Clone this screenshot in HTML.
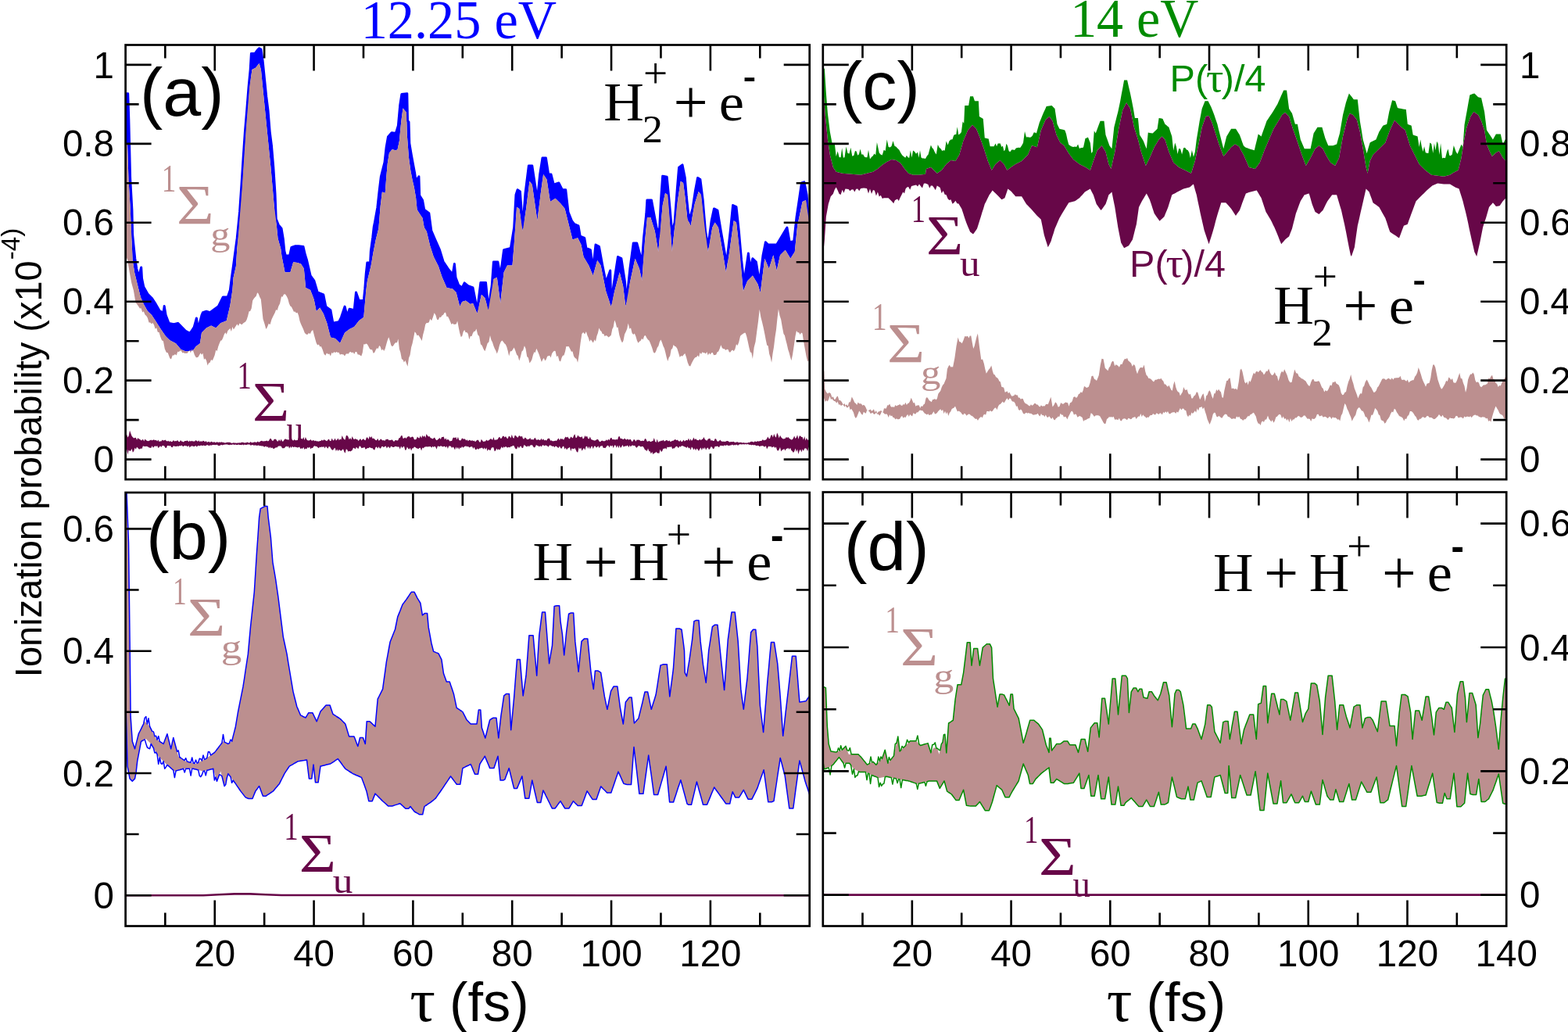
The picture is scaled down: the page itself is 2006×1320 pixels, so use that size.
<!DOCTYPE html>
<html><head><meta charset="utf-8"><title>Ionization probability</title>
<style>html,body{margin:0;padding:0;background:#fff;}svg{display:block;}</style></head>
<body><svg width="2006" height="1320" viewBox="0 0 2006 1320">
<rect width="2006" height="1320" fill="#fff"/>
<clipPath id="clipa"><rect x="160.6" y="57.5" width="875.1" height="555.7"/></clipPath><g clip-path="url(#clipa)"><path d="M159.5 119.8L163.7 119.8L164.8 152.7L166.6 227.7L168.9 268.6L169.6 300.0L170.9 312.9L172.8 330.9L174.8 343.8L177.3 354.1L180.7 342.0L181.5 356.0L183.8 367.0L188.9 376.0L194.1 381.2L199.2 388.9L204.4 397.9L209.0 400.0L210.2 391.5L212.1 403.1L216.0 413.4L222.4 414.7L227.6 413.4L232.7 418.6L237.9 423.7L243.1 426.3L248.2 418.6L251.4 407.0L253.4 421.1L258.0 403.1L259.5 399.7L264.0 398.2L268.6 399.7L274.7 395.2L279.2 392.1L285.3 380.0L291.3 380.0L294.4 370.9L296.4 355.0L298.6 339.1L303.2 305.0L306.6 270.9L308.9 236.8L311.1 202.7L313.4 168.6L315.7 141.4L318.0 111.8L320.2 89.1L321.4 68.6L325.9 68.6L329.3 64.1L331.6 61.8L333.9 63.0L336.1 77.7L338.4 100.5L340.7 123.2L343.0 141.4L345.2 168.6L347.5 186.8L349.8 214.1L352.0 248.2L353.2 280.0L356.2 287.6L360.0 292.1L362.3 305.8L363.8 320.9L365.3 327.0L370.6 327.0L372.9 316.4L377.4 314.8L382.0 314.8L388.0 315.6L390.3 325.5L392.6 333.0L397.1 352.7L401.7 358.8L406.2 373.9L413.8 377.0L416.8 392.1L422.9 396.7L425.9 413.3L433.5 411.8L436.5 405.8L441.1 392.1L444.1 404.2L447.1 395.2L453.2 396.7L455.5 373.9L459.2 384.5L465.3 384.5L466.8 369.4L468.3 349.7L469.8 336.1L473.6 336.1L474.4 320.9L476.8 303.5L478.3 290.0L479.1 286.4L482.9 265.2L485.2 243.9L487.4 225.8L492.0 207.6L494.2 187.9L496.5 175.0L501.1 169.7L506.4 170.5L509.4 160.6L511.7 134.8L513.9 120.5L520.8 119.7L521.5 154.5L523.0 156.1L523.8 183.3L526.1 197.0L528.3 209.1L530.6 221.2L532.1 231.8L535.9 225.8L536.7 250.0L540.5 256.1L542.7 268.2L548.8 272.7L551.8 295.2L556.4 305.8L562.4 319.4L567.0 334.5L573.0 343.6L579.1 351.2L581.4 337.6L583.0 355.0L586.7 364.8L591.2 367.9L594.2 361.8L598.8 365.6L605.0 368.0L610.5 396.6L614.9 361.4L621.5 361.4L624.8 394.4L629.2 365.8L631.4 335.1L636.9 335.1L640.2 352.6L644.6 319.7L653.4 317.5L657.7 291.1L660.0 249.3L662.1 242.7L665.4 244.9L668.7 291.1L672.0 247.1L676.4 212.0L680.8 212.0L684.1 234.0L687.4 255.9L690.7 223.0L694.0 202.1L698.4 202.1L701.7 223.0L705.0 223.0L708.3 236.2L714.9 234.0L719.3 242.7L723.7 242.7L727.0 271.3L731.4 282.3L734.7 286.7L740.0 288.9L742.2 302.1L747.7 304.3L749.9 317.5L755.4 319.7L758.7 343.8L762.0 313.1L766.4 315.3L770.8 339.5L775.2 361.4L780.7 346.0L781.8 387.8L785.1 363.6L790.5 328.5L794.9 330.7L799.3 359.2L801.5 385.6L805.9 343.8L810.3 310.9L814.7 310.9L821.3 335.1L823.5 304.3L826.8 273.5L827.9 255.9L833.4 255.9L836.7 273.5L840.0 291.1L843.3 299.9L845.5 255.9L847.7 225.2L853.2 226.3L856.5 260.3L859.8 297.7L863.1 284.5L866.4 240.5L868.6 214.2L873.0 210.9L876.3 227.4L878.3 251.5L881.6 282.3L886.0 266.9L889.3 244.9L892.6 227.4L895.9 229.6L899.2 255.9L902.5 295.5L905.8 315.3L910.2 282.3L913.5 266.9L917.9 269.1L922.3 295.5L927.7 326.3L930.0 332.9L934.3 295.5L937.6 262.5L942.0 264.7L945.3 295.5L948.6 332.9L951.9 361.4L957.4 324.1L959.6 343.8L962.9 330.7L967.3 335.1L971.7 361.4L976.1 326.3L979.4 309.8L982.7 313.1L987.1 313.1L993.7 313.1L1000.3 302.1L1006.9 291.1L1010.2 309.8L1015.7 308.7L1019.0 277.9L1022.3 255.9L1025.5 234.0L1028.8 232.9L1032.1 249.3L1034.3 277.9L1036.0 290.0L1036.0 290.0L1034.3 277.9L1031.0 255.9L1026.6 258.1L1020.1 288.9L1016.8 321.9L1011.3 330.7L1004.7 319.7L998.1 326.3L993.7 346.0L989.3 326.3L983.8 343.8L978.3 330.7L972.8 374.6L969.5 363.6L962.9 352.6L956.3 359.2L950.8 372.4L946.4 321.9L942.0 284.5L938.7 282.3L933.2 321.9L928.8 348.2L924.5 321.9L919.0 291.1L914.6 284.5L911.3 291.1L905.8 321.9L901.4 288.9L897.0 249.3L893.7 244.9L888.2 262.5L883.8 288.9L879.4 280.0L876.5 252.0L874.1 234.0L870.8 231.8L866.4 260.3L859.8 321.9L854.3 249.3L851.0 247.1L847.7 262.5L842.2 321.9L837.8 295.5L832.3 277.9L827.9 277.9L824.6 313.1L821.3 359.2L818.0 343.8L812.5 330.7L805.9 361.4L800.4 392.2L797.1 365.8L792.7 348.2L786.2 372.4L781.8 392.2L775.2 372.4L768.6 339.5L764.2 332.9L758.7 352.6L753.2 339.5L746.6 328.5L743.5 313.1L739.1 304.3L732.5 306.5L728.1 288.9L722.6 266.9L717.1 260.3L710.5 253.7L703.9 258.1L699.5 229.6L695.1 223.0L691.8 247.1L687.4 282.3L680.8 236.2L677.5 231.8L673.1 266.9L668.7 295.5L664.3 266.9L661.0 264.7L657.7 313.1L655.5 339.5L649.0 339.5L644.6 348.2L640.2 387.8L635.8 354.8L631.4 357.0L624.8 396.6L620.4 381.2L616.0 376.8L610.5 401.0L605.0 387.8L601.8 389.1L595.8 384.5L591.2 386.0L588.2 392.1L583.6 373.9L579.1 369.4L571.5 367.9L565.5 354.2L560.9 340.6L554.8 328.5L550.3 314.8L545.8 296.0L542.7 290.9L540.5 278.8L537.4 274.2L533.6 268.2L532.1 253.0L529.8 239.4L527.6 230.3L525.3 218.2L523.0 201.5L520.8 172.7L520.0 143.9L517.7 140.9L515.5 138.6L513.2 156.1L510.9 180.3L508.6 190.9L506.4 192.4L501.8 190.9L498.0 195.5L495.8 209.1L494.2 227.3L492.7 247.0L488.9 245.5L486.7 263.6L484.4 292.0L480.6 307.3L477.6 322.4L474.5 340.6L470.0 358.8L468.3 370.9L466.8 389.1L465.3 405.8L459.2 410.3L453.2 417.9L447.1 420.9L441.1 425.5L435.0 439.1L428.9 433.0L422.9 431.5L418.3 413.3L413.8 401.2L409.2 393.6L404.7 398.2L401.7 383.0L397.1 370.9L391.1 367.9L388.8 343.6L385.0 337.6L380.5 336.1L375.2 335.3L371.4 348.2L364.5 348.2L363.0 340.6L360.5 328.0L359.2 317.9L355.5 305.0L353.2 282.0L350.9 265.0L346.4 214.1L341.8 168.6L337.3 123.2L333.9 89.1L331.6 81.1L327.0 86.8L322.5 89.1L319.1 111.8L314.5 168.6L310.0 236.8L305.5 293.6L303.5 315.0L301.9 340.6L298.6 355.0L297.4 370.9L294.4 390.6L289.8 410.3L282.2 413.3L276.2 419.4L270.1 416.4L264.0 419.4L258.0 425.5L255.9 439.2L250.8 443.0L246.9 448.2L237.9 449.5L231.5 446.9L225.0 439.2L217.3 435.3L212.1 430.2L205.7 421.1L199.2 410.8L194.1 403.1L188.9 397.9L183.8 388.9L179.9 379.9L176.0 364.4L172.2 349.0L169.6 332.2L168.2 300.0L166.5 262.0L164.5 230.0L163.0 184.5L159.5 184.5Z" fill="#0000ff" /><path d="M159.5 119.8L163.7 119.8L164.8 152.7L166.6 227.7L168.9 268.6L169.6 300.0L170.9 312.9L172.8 330.9L174.8 343.8L177.3 354.1L180.7 342.0L181.5 356.0L183.8 367.0L188.9 376.0L194.1 381.2L199.2 388.9L204.4 397.9L209.0 400.0L210.2 391.5L212.1 403.1L216.0 413.4L222.4 414.7L227.6 413.4L232.7 418.6L237.9 423.7L243.1 426.3L248.2 418.6L251.4 407.0L253.4 421.1L258.0 403.1L259.5 399.7L264.0 398.2L268.6 399.7L274.7 395.2L279.2 392.1L285.3 380.0L291.3 380.0L294.4 370.9L296.4 355.0L298.6 339.1L303.2 305.0L306.6 270.9L308.9 236.8L311.1 202.7L313.4 168.6L315.7 141.4L318.0 111.8L320.2 89.1L321.4 68.6L325.9 68.6L329.3 64.1L331.6 61.8L333.9 63.0L336.1 77.7L338.4 100.5L340.7 123.2L343.0 141.4L345.2 168.6L347.5 186.8L349.8 214.1L352.0 248.2L353.2 280.0L356.2 287.6L360.0 292.1L362.3 305.8L363.8 320.9L365.3 327.0L370.6 327.0L372.9 316.4L377.4 314.8L382.0 314.8L388.0 315.6L390.3 325.5L392.6 333.0L397.1 352.7L401.7 358.8L406.2 373.9L413.8 377.0L416.8 392.1L422.9 396.7L425.9 413.3L433.5 411.8L436.5 405.8L441.1 392.1L444.1 404.2L447.1 395.2L453.2 396.7L455.5 373.9L459.2 384.5L465.3 384.5L466.8 369.4L468.3 349.7L469.8 336.1L473.6 336.1L474.4 320.9L476.8 303.5L478.3 290.0L479.1 286.4L482.9 265.2L485.2 243.9L487.4 225.8L492.0 207.6L494.2 187.9L496.5 175.0L501.1 169.7L506.4 170.5L509.4 160.6L511.7 134.8L513.9 120.5L520.8 119.7L521.5 154.5L523.0 156.1L523.8 183.3L526.1 197.0L528.3 209.1L530.6 221.2L532.1 231.8L535.9 225.8L536.7 250.0L540.5 256.1L542.7 268.2L548.8 272.7L551.8 295.2L556.4 305.8L562.4 319.4L567.0 334.5L573.0 343.6L579.1 351.2L581.4 337.6L583.0 355.0L586.7 364.8L591.2 367.9L594.2 361.8L598.8 365.6L605.0 368.0L610.5 396.6L614.9 361.4L621.5 361.4L624.8 394.4L629.2 365.8L631.4 335.1L636.9 335.1L640.2 352.6L644.6 319.7L653.4 317.5L657.7 291.1L660.0 249.3L662.1 242.7L665.4 244.9L668.7 291.1L672.0 247.1L676.4 212.0L680.8 212.0L684.1 234.0L687.4 255.9L690.7 223.0L694.0 202.1L698.4 202.1L701.7 223.0L705.0 223.0L708.3 236.2L714.9 234.0L719.3 242.7L723.7 242.7L727.0 271.3L731.4 282.3L734.7 286.7L740.0 288.9L742.2 302.1L747.7 304.3L749.9 317.5L755.4 319.7L758.7 343.8L762.0 313.1L766.4 315.3L770.8 339.5L775.2 361.4L780.7 346.0L781.8 387.8L785.1 363.6L790.5 328.5L794.9 330.7L799.3 359.2L801.5 385.6L805.9 343.8L810.3 310.9L814.7 310.9L821.3 335.1L823.5 304.3L826.8 273.5L827.9 255.9L833.4 255.9L836.7 273.5L840.0 291.1L843.3 299.9L845.5 255.9L847.7 225.2L853.2 226.3L856.5 260.3L859.8 297.7L863.1 284.5L866.4 240.5L868.6 214.2L873.0 210.9L876.3 227.4L878.3 251.5L881.6 282.3L886.0 266.9L889.3 244.9L892.6 227.4L895.9 229.6L899.2 255.9L902.5 295.5L905.8 315.3L910.2 282.3L913.5 266.9L917.9 269.1L922.3 295.5L927.7 326.3L930.0 332.9L934.3 295.5L937.6 262.5L942.0 264.7L945.3 295.5L948.6 332.9L951.9 361.4L957.4 324.1L959.6 343.8L962.9 330.7L967.3 335.1L971.7 361.4L976.1 326.3L979.4 309.8L982.7 313.1L987.1 313.1L993.7 313.1L1000.3 302.1L1006.9 291.1L1010.2 309.8L1015.7 308.7L1019.0 277.9L1022.3 255.9L1025.5 234.0L1028.8 232.9L1032.1 249.3L1034.3 277.9L1036.0 290.0" fill="none" stroke="#0000ff" stroke-width="3.0" stroke-linejoin="round"/><path d="M159.5 184.5L163.0 184.5L164.5 230.0L166.5 262.0L168.2 300.0L169.6 332.2L172.2 349.0L176.0 364.4L179.9 379.9L183.8 388.9L188.9 397.9L194.1 403.1L199.2 410.8L205.7 421.1L212.1 430.2L217.3 435.3L225.0 439.2L231.5 446.9L237.9 449.5L246.9 448.2L250.8 443.0L255.9 439.2L258.0 425.5L264.0 419.4L270.1 416.4L276.2 419.4L282.2 413.3L289.8 410.3L294.4 390.6L297.4 370.9L298.6 355.0L301.9 340.6L303.5 315.0L305.5 293.6L310.0 236.8L314.5 168.6L319.1 111.8L322.5 89.1L327.0 86.8L331.6 81.1L333.9 89.1L337.3 123.2L341.8 168.6L346.4 214.1L350.9 265.0L353.2 282.0L355.5 305.0L359.2 317.9L360.5 328.0L363.0 340.6L364.5 348.2L371.4 348.2L375.2 335.3L380.5 336.1L385.0 337.6L388.8 343.6L391.1 367.9L397.1 370.9L401.7 383.0L404.7 398.2L409.2 393.6L413.8 401.2L418.3 413.3L422.9 431.5L428.9 433.0L435.0 439.1L441.1 425.5L447.1 420.9L453.2 417.9L459.2 410.3L465.3 405.8L466.8 389.1L468.3 370.9L470.0 358.8L474.5 340.6L477.6 322.4L480.6 307.3L484.4 292.0L486.7 263.6L488.9 245.5L492.7 247.0L494.2 227.3L495.8 209.1L498.0 195.5L501.8 190.9L506.4 192.4L508.6 190.9L510.9 180.3L513.2 156.1L515.5 138.6L517.7 140.9L520.0 143.9L520.8 172.7L523.0 201.5L525.3 218.2L527.6 230.3L529.8 239.4L532.1 253.0L533.6 268.2L537.4 274.2L540.5 278.8L542.7 290.9L545.8 296.0L550.3 314.8L554.8 328.5L560.9 340.6L565.5 354.2L571.5 367.9L579.1 369.4L583.6 373.9L588.2 392.1L591.2 386.0L595.8 384.5L601.8 389.1L605.0 387.8L610.5 401.0L616.0 376.8L620.4 381.2L624.8 396.6L631.4 357.0L635.8 354.8L640.2 387.8L644.6 348.2L649.0 339.5L655.5 339.5L657.7 313.1L661.0 264.7L664.3 266.9L668.7 295.5L673.1 266.9L677.5 231.8L680.8 236.2L687.4 282.3L691.8 247.1L695.1 223.0L699.5 229.6L703.9 258.1L710.5 253.7L717.1 260.3L722.6 266.9L728.1 288.9L732.5 306.5L739.1 304.3L743.5 313.1L746.6 328.5L753.2 339.5L758.7 352.6L764.2 332.9L768.6 339.5L775.2 372.4L781.8 392.2L786.2 372.4L792.7 348.2L797.1 365.8L800.4 392.2L805.9 361.4L812.5 330.7L818.0 343.8L821.3 359.2L824.6 313.1L827.9 277.9L832.3 277.9L837.8 295.5L842.2 321.9L847.7 262.5L851.0 247.1L854.3 249.3L859.8 321.9L866.4 260.3L870.8 231.8L874.1 234.0L876.5 252.0L879.4 280.0L883.8 288.9L888.2 262.5L893.7 244.9L897.0 249.3L901.4 288.9L905.8 321.9L911.3 291.1L914.6 284.5L919.0 291.1L924.5 321.9L928.8 348.2L933.2 321.9L938.7 282.3L942.0 284.5L946.4 321.9L950.8 372.4L956.3 359.2L962.9 352.6L969.5 363.6L972.8 374.6L978.3 330.7L983.8 343.8L989.3 326.3L993.7 346.0L998.1 326.3L1004.7 319.7L1011.3 330.7L1016.8 321.9L1020.1 288.9L1026.6 258.1L1031.0 255.9L1034.3 277.9L1036.0 290.0L1036.0 458.9L1033.2 462.5L1031.5 455.4L1029.9 446.8L1028.2 437.4L1026.6 426.6L1025.1 425.5L1023.6 428.1L1022.0 425.2L1020.5 425.2L1019.0 423.1L1017.4 430.4L1015.7 442.6L1014.0 453.8L1012.4 461.3L1011.0 456.5L1009.6 451.3L1008.2 446.9L1006.7 440.3L1005.3 435.1L1003.9 429.1L1002.5 427.0L1000.9 418.8L999.2 408.8L997.5 403.4L995.9 395.3L994.4 408.1L993.0 421.7L991.5 431.3L990.0 443.9L988.6 452.1L987.1 463.7L985.6 456.9L984.2 452.7L982.7 442.4L981.2 441.4L979.8 435.1L978.3 427.0L976.6 418.7L975.0 411.9L973.4 405.7L971.7 395.7L970.0 411.3L968.4 423.0L966.6 436.9L964.7 444.3L962.9 458.9L961.4 451.2L959.8 450.2L958.3 444.3L956.7 436.8L955.2 430.2L953.7 425.8L952.3 425.7L950.8 426.7L949.0 427.9L947.1 429.7L945.3 437.6L943.6 442.1L942.0 440.2L940.4 446.5L938.7 449.3L937.2 447.6L935.8 448.4L934.4 450.4L932.9 450.5L931.5 447.1L930.0 446.7L928.5 448.1L926.9 446.2L925.4 446.2L923.8 445.0L922.3 441.2L920.8 445.7L919.2 449.6L917.7 450.2L916.1 453.7L914.6 453.9L913.1 454.2L911.7 451.1L910.2 451.3L908.7 453.4L907.3 451.4L905.8 454.6L904.3 450.1L902.9 452.4L901.4 451.3L899.9 451.3L898.5 450.2L897.0 452.9L895.5 451.0L894.1 456.8L892.6 454.5L891.1 456.7L889.7 457.1L888.2 458.6L886.6 461.2L884.9 464.6L883.2 468.6L881.6 468.0L879.8 463.8L878.1 457.3L876.3 452.0L874.6 453.7L873.0 455.8L871.4 455.1L869.7 457.0L868.1 451.6L866.4 446.0L864.8 443.6L863.1 442.7L861.6 441.0L860.2 445.7L858.7 447.1L857.2 455.3L855.8 457.2L854.3 461.9L852.8 457.3L851.4 451.3L849.9 445.6L848.4 442.4L847.0 438.3L845.5 434.6L844.0 436.8L842.4 442.5L840.9 444.4L839.3 448.9L837.8 451.7L836.0 450.7L834.1 444.4L832.3 439.8L830.6 435.7L829.0 434.5L827.4 432.3L825.7 428.9L824.2 429.7L822.6 434.6L821.1 433.1L819.5 436.0L818.0 436.8L816.5 438.8L814.9 435.4L813.4 430.3L811.8 426.4L810.3 428.0L808.6 426.1L807.0 419.3L805.4 420.8L803.7 413.5L802.2 420.7L800.6 424.6L799.1 427.6L797.5 435.7L796.0 438.5L794.2 434.7L792.3 428.4L790.5 418.5L789.1 419.0L787.6 412.7L786.2 409.5L784.7 418.3L783.3 421.1L781.8 428.8L780.1 430.2L778.5 431.4L776.9 429.7L775.2 429.1L773.7 430.2L772.3 427.1L770.8 427.2L769.3 423.8L767.9 422.7L766.4 419.6L764.9 425.9L763.5 429.7L762.0 436.8L760.5 434.2L758.9 438.4L757.4 436.6L755.8 434.3L754.3 436.9L752.8 431.9L751.4 429.1L749.9 424.1L748.1 427.4L746.2 424.9L744.4 426.9L742.6 438.7L740.9 452.9L739.1 463.7L737.5 458.9L735.8 457.9L734.1 455.8L732.5 449.4L730.9 449.8L729.2 446.1L727.5 442.9L725.9 443.3L724.4 442.9L723.0 449.7L721.5 454.4L720.0 454.8L718.6 457.4L717.1 462.5L715.5 461.5L713.8 455.0L712.1 456.3L710.5 449.0L709.0 448.8L707.6 450.0L706.1 452.2L704.6 457.6L703.2 454.7L701.7 455.2L700.2 455.8L698.8 459.6L697.3 461.6L695.8 458.0L694.4 459.8L692.9 463.1L691.2 458.1L689.6 453.3L687.9 449.2L686.3 445.7L684.8 451.1L683.4 450.3L681.9 454.2L680.4 460.0L679.0 462.5L677.5 464.5L675.9 457.8L674.2 456.1L672.5 445.7L670.9 442.3L669.2 447.9L667.6 449.4L665.9 456.6L664.3 461.6L662.6 455.2L661.0 453.4L659.4 448.8L657.7 444.6L656.1 446.9L654.5 449.3L652.8 449.2L651.2 455.6L649.7 448.7L648.3 443.8L646.8 440.4L645.3 439.3L643.9 437.2L642.4 435.6L640.8 437.0L639.1 441.2L637.4 448.0L635.8 452.4L634.3 448.4L632.9 446.0L631.4 442.2L629.9 437.4L628.5 435.1L627.0 429.0L625.4 437.6L623.7 439.0L622.0 444.6L620.4 449.3L618.6 446.5L616.7 442.1L614.9 440.2L613.1 430.2L611.2 427.9L609.4 420.6L607.9 423.7L606.5 423.8L605.0 426.1L603.4 430.3L601.9 429.7L600.3 434.2L598.8 427.0L597.2 425.0L595.7 425.2L594.2 422.1L592.7 424.2L591.2 430.1L589.7 430.9L588.2 426.0L586.7 418.8L585.2 410.5L583.7 414.5L582.2 414.7L580.6 415.0L579.1 413.5L577.6 415.0L576.0 411.2L574.5 407.7L573.0 404.8L571.5 405.0L570.0 399.5L568.5 400.2L567.0 402.7L565.5 403.6L563.9 406.0L562.4 405.6L560.9 409.0L559.1 408.7L557.4 403.0L555.6 400.2L553.8 406.0L552.1 410.2L550.3 407.8L548.8 412.3L547.2 412.9L545.7 413.1L544.2 415.1L542.7 422.4L541.2 427.9L539.7 436.1L538.2 433.3L536.7 430.7L535.2 428.6L533.6 429.3L532.1 426.1L530.6 424.2L529.1 432.0L527.6 439.3L526.1 444.3L524.6 454.1L523.0 458.1L521.5 468.8L520.0 464.9L518.5 461.1L516.9 463.5L515.4 460.1L513.9 459.3L512.4 451.0L510.9 446.6L509.4 433.5L507.9 438.4L506.4 438.0L504.8 439.4L503.3 442.1L501.8 443.2L500.3 441.6L498.8 435.7L497.3 431.2L495.8 434.9L494.2 440.6L492.7 445.9L491.2 449.1L489.7 446.5L488.2 448.3L486.7 443.5L485.2 442.1L483.7 446.1L482.1 445.3L480.6 447.8L479.1 451.0L477.6 451.8L476.1 447.2L474.5 447.2L473.0 446.2L471.4 443.1L469.8 440.3L468.3 439.6L466.8 440.6L465.3 440.2L463.8 451.0L462.3 455.5L460.8 454.4L459.2 453.4L457.7 453.4L456.2 450.1L454.7 450.0L453.2 453.0L451.7 450.4L450.2 451.2L448.6 449.9L447.1 450.6L445.6 452.7L444.1 452.2L442.6 452.7L441.0 455.5L439.5 453.5L438.0 453.2L436.5 452.9L435.0 453.7L433.5 450.7L432.0 451.1L430.5 450.0L428.9 451.3L427.4 450.0L425.9 451.9L424.4 451.0L422.9 455.5L421.3 452.4L419.8 452.9L418.0 451.5L416.3 454.8L414.5 452.7L412.6 447.0L410.8 443.1L409.3 443.5L407.8 440.5L406.2 441.4L404.7 438.7L403.2 433.6L401.7 427.9L400.2 422.0L398.5 423.4L396.8 427.1L395.0 426.1L393.3 427.9L391.5 427.6L389.8 425.8L388.0 421.1L386.5 417.7L385.0 414.6L383.5 410.6L382.0 403.6L380.5 399.7L379.0 400.6L377.4 398.5L375.9 398.7L374.4 395.6L372.9 392.4L371.4 391.6L369.9 388.2L368.3 382.2L366.8 379.1L364.9 376.3L363.0 376.6L361.5 379.7L360.0 379.2L358.1 388.3L356.2 391.9L354.7 396.9L353.2 396.1L351.7 399.9L349.4 404.5L347.5 408.5L345.6 415.0L343.7 414.1L341.8 418.7L340.3 421.1L338.8 415.3L336.5 408.0L333.8 382.7L332.3 380.0L330.7 375.8L329.2 374.3L327.7 378.8L326.2 380.3L324.7 382.1L323.2 384.6L321.7 394.4L320.1 398.0L318.6 398.3L317.1 404.2L315.6 409.0L314.1 411.4L312.5 412.5L311.0 413.4L309.5 415.2L308.0 414.6L306.5 413.4L304.9 416.9L303.4 414.6L301.9 416.7L300.4 419.0L298.9 421.6L297.4 417.9L295.9 424.0L294.4 420.1L292.9 421.6L291.4 423.0L289.8 427.8L288.3 425.3L286.8 427.7L285.3 431.9L283.8 435.3L282.2 435.8L280.7 439.2L279.2 443.3L277.7 448.9L276.2 447.7L274.7 454.3L273.2 458.1L271.7 461.2L270.1 460.0L268.6 463.8L267.1 464.3L265.6 467.5L264.0 461.1L262.5 458.5L261.0 460.1L259.5 451.7L258.0 453.8L256.6 451.5L255.1 454.1L253.7 456.6L252.2 457.2L250.8 457.2L248.9 454.0L246.9 448.0L245.4 446.7L243.9 451.6L242.4 447.9L240.9 449.9L239.4 452.1L237.9 451.8L236.4 451.9L234.9 450.9L233.4 451.4L231.9 448.7L230.4 448.5L228.9 450.0L227.3 449.8L225.7 454.6L224.0 453.0L222.4 454.6L220.7 454.4L219.0 459.4L217.3 458.2L214.7 451.3L212.8 450.7L210.8 446.2L208.9 436.3L207.0 435.2L205.3 430.9L203.5 425.0L201.8 424.8L200.2 419.3L198.6 420.8L197.0 415.5L195.4 413.0L193.8 414.2L192.2 412.6L190.5 412.5L188.9 406.7L187.2 403.9L185.5 402.5L183.8 398.3L182.2 399.5L180.6 394.3L178.9 394.4L177.3 392.1L175.4 389.2L173.5 387.1L170.9 371.6L168.3 362.1L165.7 348.3L163.2 332.3L161.3 328.8L159.5 325.7Z" fill="#bc8f8f" /><path d="M159.5 560.3L160.8 558.7L162.1 555.6L163.4 559.4L164.7 557.5L166.0 550.5L167.3 554.2L168.6 557.7L169.9 559.2L171.2 560.5L172.5 559.9L173.8 559.7L175.1 562.7L176.4 560.1L177.7 561.5L179.0 561.8L180.3 563.3L181.6 563.3L182.9 561.5L184.2 564.4L185.5 561.4L186.8 563.1L188.1 563.7L189.4 564.3L190.7 563.7L192.0 563.3L193.3 562.6L194.6 563.4L195.9 562.6L197.2 562.4L198.5 563.2L199.8 562.7L201.1 564.6L202.4 562.6L203.7 564.9L205.0 564.2L206.3 564.5L207.6 562.6L208.9 563.6L210.2 563.2L211.5 562.6L212.8 564.0L214.1 564.6L215.4 563.8L216.7 564.9L218.0 563.9L219.3 565.2L220.6 564.8L221.9 563.0L223.2 564.5L224.5 564.0L225.8 564.3L227.1 563.1L228.4 564.7L229.7 565.2L231.0 563.0L232.3 564.4L233.6 564.7L234.9 565.4L236.2 564.0L237.5 564.0L238.8 563.8L240.1 563.6L241.4 565.2L242.7 563.6L244.0 564.8L245.3 563.8L246.6 564.5L247.9 564.4L249.2 564.5L250.5 563.0L251.8 563.9L253.1 564.7L254.4 563.3L255.7 565.2L257.0 564.0L258.3 565.1L259.6 563.8L260.9 563.9L262.2 565.3L263.5 564.1L264.8 565.7L266.1 565.2L267.4 564.7L268.7 565.9L270.0 564.8L271.3 564.9L272.6 566.1L273.9 565.1L275.2 565.9L276.5 565.9L277.8 565.0L279.1 566.3L280.4 565.3L281.7 566.0L283.0 565.3L284.3 565.7L285.6 565.8L286.9 566.3L288.2 566.4L289.5 566.1L290.8 565.8L292.1 565.8L293.4 565.8L294.7 565.9L296.0 566.7L297.3 566.7L298.6 566.3L299.9 566.6L301.2 566.4L302.5 566.7L303.8 566.4L305.1 566.5L306.4 566.3L307.7 566.6L309.0 565.7L310.3 565.8L311.6 566.0L312.9 566.5L314.2 566.3L315.5 566.1L316.8 565.6L318.1 566.4L319.4 566.3L320.7 565.0L322.0 566.2L323.3 565.9L324.6 565.7L325.9 565.2L327.2 565.8L328.5 565.8L329.8 564.5L331.1 565.7L332.4 565.1L333.7 563.9L335.0 563.7L336.3 564.6L337.6 564.2L338.9 564.3L340.2 564.0L341.5 563.5L342.8 564.6L344.1 563.5L345.4 561.0L346.7 560.9L348.0 563.6L349.3 564.0L350.6 562.1L351.9 561.5L353.2 561.9L354.5 564.2L355.8 564.4L357.1 561.9L358.4 564.4L359.7 561.6L361.0 564.6L362.3 564.4L363.6 562.6L364.9 561.3L366.2 562.0L367.5 562.2L368.8 562.4L370.1 562.3L371.4 564.5L372.7 563.1L374.0 564.1L375.3 564.1L376.6 562.0L377.9 563.4L379.2 563.4L380.5 564.0L381.8 559.8L383.1 561.0L384.4 561.1L385.7 561.0L387.0 561.8L388.3 559.1L389.6 563.1L390.9 558.9L392.2 562.1L393.5 563.3L394.8 563.5L396.1 563.3L397.4 561.9L398.7 563.8L400.0 563.6L401.3 563.1L402.6 564.3L403.9 563.6L405.2 564.6L406.5 564.3L407.8 564.8L409.1 564.0L410.4 564.0L411.7 562.6L413.0 563.8L414.3 562.2L415.6 562.7L416.9 563.6L418.2 564.3L419.5 562.6L420.8 561.5L422.1 564.0L423.4 563.9L424.7 560.5L426.0 563.4L427.3 563.0L428.6 560.4L429.9 563.5L431.2 562.6L432.5 560.6L433.8 563.3L435.1 561.4L436.4 562.5L437.7 556.9L439.0 560.3L440.3 562.0L441.6 562.6L442.9 557.1L444.2 557.0L445.5 558.8L446.8 562.2L448.1 560.1L449.4 562.5L450.7 558.1L452.0 561.3L453.3 561.9L454.6 560.9L455.9 562.1L457.2 562.0L458.5 564.1L459.8 562.6L461.1 561.0L462.4 563.4L463.7 561.9L465.0 561.3L466.3 562.7L467.6 563.2L468.9 559.6L470.2 559.4L471.5 561.9L472.8 557.7L474.1 560.1L475.4 558.1L476.7 561.3L478.0 560.5L479.3 561.8L480.6 563.0L481.9 563.3L483.2 560.7L484.5 563.7L485.8 563.1L487.1 561.3L488.4 562.5L489.7 563.4L491.0 562.9L492.3 564.1L493.6 562.0L494.9 562.0L496.2 561.4L497.5 563.3L498.8 563.0L500.1 562.9L501.4 562.3L502.7 563.5L504.0 565.0L505.3 563.2L506.6 563.0L507.9 563.5L509.2 563.2L510.5 560.3L511.8 560.1L513.1 557.2L514.4 557.1L515.7 560.9L517.0 560.6L518.3 559.4L519.6 560.9L520.9 559.1L522.2 558.3L523.5 558.1L524.8 559.8L526.1 559.2L527.4 558.6L528.7 559.1L530.0 562.3L531.3 562.2L532.6 561.8L533.9 558.6L535.2 560.1L536.5 560.5L537.8 557.2L539.1 560.5L540.4 556.8L541.7 559.0L543.0 557.1L544.3 559.9L545.6 554.9L546.9 557.2L548.2 558.6L549.5 558.1L550.8 560.3L552.1 560.5L553.4 561.4L554.7 560.4L556.0 559.6L557.3 561.9L558.6 563.3L559.9 562.5L561.2 561.2L562.5 560.1L563.8 562.0L565.1 558.9L566.4 559.0L567.7 558.5L569.0 562.5L570.3 560.2L571.6 562.9L572.9 561.8L574.2 562.7L575.5 564.5L576.8 564.1L578.1 564.1L579.4 560.3L580.7 559.5L582.0 560.2L583.3 558.9L584.6 562.4L585.9 558.7L587.2 562.7L588.5 563.5L589.8 562.9L591.1 560.3L592.4 561.6L593.7 561.5L595.0 561.4L596.3 563.6L597.6 562.3L598.9 564.3L600.2 562.7L601.5 562.9L602.8 563.9L604.1 563.1L605.4 564.2L606.7 563.5L608.0 565.2L609.3 563.8L610.6 562.8L611.9 562.7L613.2 565.3L614.5 565.8L615.8 561.7L617.1 563.6L618.4 565.1L619.7 564.5L621.0 564.5L622.3 562.4L623.6 563.8L624.9 563.6L626.2 562.5L627.5 561.2L628.8 561.4L630.1 562.9L631.4 559.0L632.7 563.0L634.0 562.4L635.3 562.6L636.6 562.0L637.9 559.8L639.2 558.7L640.5 561.1L641.8 560.4L643.1 557.8L644.4 557.8L645.7 559.5L647.0 558.1L648.3 560.3L649.6 561.2L650.9 557.7L652.2 558.2L653.5 560.5L654.8 555.8L656.1 559.7L657.4 560.7L658.7 556.8L660.0 557.3L661.3 559.1L662.6 559.7L663.9 557.3L665.2 557.4L666.5 558.7L667.8 557.4L669.1 561.2L670.4 561.6L671.7 559.5L673.0 560.6L674.3 562.3L675.6 561.8L676.9 561.7L678.2 560.1L679.5 562.6L680.8 561.8L682.1 562.7L683.4 560.9L684.7 559.7L686.0 562.4L687.3 562.7L688.6 562.1L689.9 562.7L691.2 563.0L692.5 560.7L693.8 563.1L695.1 561.2L696.4 563.6L697.7 562.5L699.0 563.8L700.3 561.6L701.6 560.7L702.9 560.8L704.2 563.8L705.5 563.2L706.8 564.2L708.1 564.2L709.4 563.9L710.7 563.4L712.0 564.1L713.3 562.1L714.6 560.4L715.9 563.2L717.2 560.7L718.5 561.7L719.8 561.3L721.1 562.7L722.4 560.3L723.7 558.4L725.0 559.7L726.3 558.4L727.6 560.7L728.9 561.6L730.2 558.6L731.5 559.4L732.8 560.4L734.1 557.0L735.4 555.2L736.7 560.2L738.0 559.6L739.3 556.4L740.6 558.4L741.9 558.8L743.2 559.5L744.5 558.1L745.8 561.5L747.1 560.4L748.4 557.1L749.7 559.1L751.0 557.4L752.3 561.0L753.6 561.6L754.9 558.4L756.2 562.1L757.5 562.6L758.8 562.9L760.1 563.6L761.4 563.6L762.7 562.8L764.0 561.8L765.3 562.2L766.6 564.5L767.9 565.2L769.2 564.0L770.5 563.6L771.8 564.3L773.1 564.3L774.4 564.1L775.7 562.2L777.0 563.8L778.3 561.4L779.6 563.3L780.9 560.4L782.2 559.8L783.5 562.3L784.8 562.1L786.1 562.3L787.4 562.5L788.7 561.8L790.0 562.4L791.3 558.6L792.6 558.1L793.9 561.2L795.2 560.7L796.5 561.7L797.8 561.9L799.1 560.4L800.4 562.1L801.7 562.5L803.0 561.3L804.3 562.7L805.6 562.1L806.9 562.0L808.2 564.8L809.5 564.6L810.8 562.0L812.1 562.4L813.4 564.7L814.7 562.5L816.0 562.8L817.3 562.4L818.6 563.2L819.9 564.3L821.2 563.8L822.5 563.7L823.8 563.9L825.1 560.9L826.4 561.5L827.7 564.5L829.0 564.7L830.3 563.7L831.6 564.7L832.9 565.1L834.2 564.3L835.5 563.9L836.8 560.1L838.1 564.5L839.4 566.1L840.7 561.5L842.0 565.9L843.3 564.5L844.6 564.5L845.9 563.5L847.2 564.1L848.5 562.6L849.8 564.5L851.1 564.0L852.4 562.9L853.7 563.3L855.0 564.6L856.3 563.2L857.6 565.0L858.9 564.5L860.2 563.7L861.5 563.7L862.8 562.5L864.1 562.1L865.4 563.3L866.7 562.4L868.0 564.1L869.3 564.7L870.6 562.9L871.9 565.2L873.2 564.5L874.5 562.5L875.8 564.4L877.1 563.4L878.4 562.7L879.7 563.4L881.0 560.4L882.3 564.1L883.6 561.2L884.9 563.9L886.2 562.2L887.5 559.5L888.8 562.6L890.1 561.1L891.4 562.8L892.7 563.1L894.0 563.3L895.3 561.4L896.6 563.3L897.9 561.9L899.2 561.6L900.5 558.9L901.8 561.9L903.1 563.1L904.4 563.7L905.7 561.8L907.0 561.1L908.3 560.7L909.6 563.8L910.9 563.1L912.2 564.0L913.5 564.1L914.8 561.1L916.1 561.5L917.4 564.3L918.7 564.7L920.0 564.0L921.3 562.6L922.6 564.2L923.9 564.8L925.2 564.7L926.5 564.7L927.8 565.0L929.1 564.3L930.4 564.1L931.7 564.3L933.0 565.4L934.3 565.2L935.6 564.9L936.9 565.3L938.2 564.8L939.5 565.5L940.8 565.9L942.1 565.4L943.4 565.3L944.7 566.0L946.0 566.0L947.3 565.8L948.6 565.9L949.9 566.5L951.2 566.0L952.5 566.4L953.8 566.6L955.1 566.4L956.4 566.5L957.7 565.8L959.0 566.1L960.3 565.1L961.6 564.7L962.9 564.9L964.2 565.8L965.5 564.5L966.8 564.8L968.1 565.1L969.4 564.0L970.7 564.7L972.0 564.0L973.3 564.1L974.6 563.7L975.9 562.1L977.2 563.4L978.5 562.8L979.8 562.7L981.1 560.9L982.4 558.5L983.7 560.9L985.0 561.1L986.3 556.7L987.6 556.2L988.9 559.4L990.2 555.1L991.5 557.9L992.8 559.7L994.1 553.5L995.4 556.1L996.7 560.4L998.0 556.8L999.3 559.3L1000.6 560.4L1001.9 561.4L1003.2 561.3L1004.5 561.1L1005.8 559.1L1007.1 559.9L1008.4 559.1L1009.7 560.8L1011.0 561.5L1012.3 562.5L1013.6 562.2L1014.9 560.4L1016.2 557.5L1017.5 561.0L1018.8 559.6L1020.1 556.2L1021.4 561.8L1022.7 557.5L1024.0 557.4L1025.3 559.0L1026.6 559.0L1027.9 562.4L1029.2 557.9L1030.5 563.5L1031.8 560.1L1033.1 562.7L1034.4 562.4L1035.7 562.5L1036.0 564.4L1036.0 573.8L1035.7 571.6L1034.4 572.6L1033.1 577.2L1031.8 574.0L1030.5 573.2L1029.2 573.7L1027.9 577.1L1026.6 574.6L1025.3 578.6L1024.0 574.7L1022.7 576.6L1021.4 580.9L1020.1 574.5L1018.8 578.0L1017.5 573.5L1016.2 577.4L1014.9 579.1L1013.6 577.1L1012.3 575.9L1011.0 572.7L1009.7 575.0L1008.4 573.0L1007.1 573.7L1005.8 574.1L1004.5 576.6L1003.2 573.9L1001.9 575.0L1000.6 575.6L999.3 577.5L998.0 572.0L996.7 575.0L995.4 576.8L994.1 575.7L992.8 571.6L991.5 573.1L990.2 571.3L988.9 571.5L987.6 572.5L986.3 570.8L985.0 571.4L983.7 570.5L982.4 572.1L981.1 574.4L979.8 570.3L978.5 571.6L977.2 571.3L975.9 569.9L974.6 570.6L973.3 570.3L972.0 571.2L970.7 570.3L969.4 569.7L968.1 570.2L966.8 569.7L965.5 569.1L964.2 569.6L962.9 568.7L961.6 569.5L960.3 568.8L959.0 569.1L957.7 568.5L956.4 568.0L955.1 568.4L953.8 568.0L952.5 568.5L951.2 568.2L949.9 568.3L948.6 568.5L947.3 568.3L946.0 568.2L944.7 569.4L943.4 569.5L942.1 568.5L940.8 569.6L939.5 569.1L938.2 569.8L936.9 568.6L935.6 569.6L934.3 569.5L933.0 570.1L931.7 569.9L930.4 569.2L929.1 569.4L927.8 569.9L926.5 569.3L925.2 570.8L923.9 569.8L922.6 570.2L921.3 569.8L920.0 572.3L918.7 571.2L917.4 570.5L916.1 571.3L914.8 570.7L913.5 573.7L912.2 574.2L910.9 571.8L909.6 571.3L908.3 574.1L907.0 575.3L905.7 572.4L904.4 573.3L903.1 575.7L901.8 572.1L900.5 574.4L899.2 572.6L897.9 576.0L896.6 572.5L895.3 574.3L894.0 577.0L892.7 575.0L891.4 573.4L890.1 576.3L888.8 573.2L887.5 575.4L886.2 572.9L884.9 571.5L883.6 575.7L882.3 572.5L881.0 573.5L879.7 571.1L878.4 572.9L877.1 571.8L875.8 571.4L874.5 570.7L873.2 570.3L871.9 570.3L870.6 571.8L869.3 570.7L868.0 573.3L866.7 571.4L865.4 570.8L864.1 571.8L862.8 573.5L861.5 573.2L860.2 574.2L858.9 571.1L857.6 571.9L856.3 571.5L855.0 572.2L853.7 571.6L852.4 574.8L851.1 572.9L849.8 574.0L848.5 573.8L847.2 577.1L845.9 577.9L844.6 574.7L843.3 579.9L842.0 579.5L840.7 579.5L839.4 577.7L838.1 579.5L836.8 579.4L835.5 581.3L834.2 577.7L832.9 580.5L831.6 577.3L830.3 577.2L829.0 573.6L827.7 577.3L826.4 575.6L825.1 575.4L823.8 572.8L822.5 571.1L821.2 571.1L819.9 571.4L818.6 570.8L817.3 569.9L816.0 570.9L814.7 572.7L813.4 572.1L812.1 569.7L810.8 570.3L809.5 569.5L808.2 569.8L806.9 571.6L805.6 569.6L804.3 572.2L803.0 569.6L801.7 570.6L800.4 570.6L799.1 570.8L797.8 571.7L796.5 569.1L795.2 571.5L793.9 573.0L792.6 569.6L791.3 573.3L790.0 569.5L788.7 572.8L787.4 569.5L786.1 569.5L784.8 573.2L783.5 569.6L782.2 571.0L780.9 569.6L779.6 572.4L778.3 570.0L777.0 569.8L775.7 571.6L774.4 573.3L773.1 572.8L771.8 573.1L770.5 570.1L769.2 570.6L767.9 570.7L766.6 573.3L765.3 570.3L764.0 572.0L762.7 572.6L761.4 570.4L760.1 570.7L758.8 574.3L757.5 570.5L756.2 571.4L754.9 574.5L753.6 571.0L752.3 574.0L751.0 570.7L749.7 570.9L748.4 575.8L747.1 573.0L745.8 574.4L744.5 576.7L743.2 572.6L741.9 574.6L740.6 572.3L739.3 578.5L738.0 578.2L736.7 575.5L735.4 573.0L734.1 574.3L732.8 574.0L731.5 573.4L730.2 577.3L728.9 571.7L727.6 573.1L726.3 573.5L725.0 575.5L723.7 572.4L722.4 574.8L721.1 570.6L719.8 571.2L718.5 573.8L717.2 573.3L715.9 570.5L714.6 573.0L713.3 572.2L712.0 571.0L710.7 570.4L709.4 572.3L708.1 570.4L706.8 571.1L705.5 570.3L704.2 569.6L702.9 569.6L701.6 571.8L700.3 570.5L699.0 569.7L697.7 569.5L696.4 570.5L695.1 569.2L693.8 569.5L692.5 571.5L691.2 570.0L689.9 571.6L688.6 570.2L687.3 569.9L686.0 569.1L684.7 571.8L683.4 572.4L682.1 571.3L680.8 569.0L679.5 569.5L678.2 569.5L676.9 571.5L675.6 570.1L674.3 571.6L673.0 571.1L671.7 569.7L670.4 569.1L669.1 573.0L667.8 573.1L666.5 570.4L665.2 570.9L663.9 573.4L662.6 570.8L661.3 573.9L660.0 574.5L658.7 572.8L657.4 570.1L656.1 569.9L654.8 570.9L653.5 571.1L652.2 572.6L650.9 571.7L649.6 572.6L648.3 572.3L647.0 570.7L645.7 572.4L644.4 571.3L643.1 573.5L641.8 571.3L640.5 573.8L639.2 575.8L637.9 574.3L636.6 575.8L635.3 573.5L634.0 576.5L632.7 577.2L631.4 572.3L630.1 572.3L628.8 572.7L627.5 575.9L626.2 575.8L624.9 574.5L623.6 577.0L622.3 572.4L621.0 574.9L619.7 572.5L618.4 574.8L617.1 572.7L615.8 572.7L614.5 573.6L613.2 573.5L611.9 575.0L610.6 573.5L609.3 575.3L608.0 574.9L606.7 571.8L605.4 574.0L604.1 571.3L602.8 571.3L601.5 571.8L600.2 572.4L598.9 570.8L597.6 571.5L596.3 570.5L595.0 570.7L593.7 571.6L592.4 572.8L591.1 570.9L589.8 573.3L588.5 572.2L587.2 575.1L585.9 571.7L584.6 574.2L583.3 571.6L582.0 575.5L580.7 572.7L579.4 571.4L578.1 573.0L576.8 570.7L575.5 570.6L574.2 570.4L572.9 574.0L571.6 570.4L570.3 572.4L569.0 570.8L567.7 570.9L566.4 571.6L565.1 570.8L563.8 570.2L562.5 571.2L561.2 570.7L559.9 570.6L558.6 574.8L557.3 571.8L556.0 570.7L554.7 572.1L553.4 570.7L552.1 572.8L550.8 571.0L549.5 571.3L548.2 571.3L546.9 571.5L545.6 571.3L544.3 571.6L543.0 571.7L541.7 573.5L540.4 572.5L539.1 576.4L537.8 572.7L536.5 573.1L535.2 574.3L533.9 573.5L532.6 573.3L531.3 571.9L530.0 571.5L528.7 573.4L527.4 573.2L526.1 576.5L524.8 572.8L523.5 574.8L522.2 573.8L520.9 571.4L519.6 575.4L518.3 575.8L517.0 570.7L515.7 571.6L514.4 573.0L513.1 570.4L511.8 574.7L510.5 571.5L509.2 571.6L507.9 571.5L506.6 571.1L505.3 571.1L504.0 572.1L502.7 572.0L501.4 571.2L500.1 570.7L498.8 573.5L497.5 571.8L496.2 571.2L494.9 573.4L493.6 570.5L492.3 571.0L491.0 572.2L489.7 571.0L488.4 570.9L487.1 573.4L485.8 573.5L484.5 571.3L483.2 573.8L481.9 571.4L480.6 572.0L479.3 575.6L478.0 575.3L476.7 573.2L475.4 573.2L474.1 572.7L472.8 571.9L471.5 573.2L470.2 573.0L468.9 573.9L467.6 574.8L466.3 571.8L465.0 572.7L463.7 572.8L462.4 573.3L461.1 570.8L459.8 570.6L458.5 574.1L457.2 573.3L455.9 571.8L454.6 574.6L453.3 573.2L452.0 572.7L450.7 575.8L449.4 576.8L448.1 577.5L446.8 576.8L445.5 577.8L444.2 575.3L442.9 574.2L441.6 579.8L440.3 577.7L439.0 574.3L437.7 575.5L436.4 576.8L435.1 576.0L433.8 574.9L432.5 577.0L431.2 574.5L429.9 577.2L428.6 572.7L427.3 573.7L426.0 575.8L424.7 575.5L423.4 573.8L422.1 571.5L420.8 571.1L419.5 573.7L418.2 572.5L416.9 570.7L415.6 573.4L414.3 571.0L413.0 572.1L411.7 571.3L410.4 572.3L409.1 571.4L407.8 573.2L406.5 572.3L405.2 570.9L403.9 571.0L402.6 570.3L401.3 570.9L400.0 573.2L398.7 572.8L397.4 574.5L396.1 571.4L394.8 573.1L393.5 571.9L392.2 574.4L390.9 573.5L389.6 575.1L388.3 571.9L387.0 574.0L385.7 573.2L384.4 574.3L383.1 571.4L381.8 572.2L380.5 572.4L379.2 571.9L377.9 571.7L376.6 571.5L375.3 572.2L374.0 570.7L372.7 573.1L371.4 571.1L370.1 573.7L368.8 570.5L367.5 571.7L366.2 570.4L364.9 572.0L363.6 573.2L362.3 573.2L361.0 573.2L359.7 570.7L358.4 570.6L357.1 570.6L355.8 570.8L354.5 572.4L353.2 572.3L351.9 572.9L350.6 574.1L349.3 573.8L348.0 572.2L346.7 573.5L345.4 571.5L344.1 573.5L342.8 571.3L341.5 572.1L340.2 570.4L338.9 571.6L337.6 571.4L336.3 570.3L335.0 570.7L333.7 570.0L332.4 570.4L331.1 569.5L329.8 569.7L328.5 570.0L327.2 569.4L325.9 569.4L324.6 569.8L323.3 569.1L322.0 569.3L320.7 569.8L319.4 568.6L318.1 568.6L316.8 568.6L315.5 568.9L314.2 569.0L312.9 568.6L311.6 569.4L310.3 568.4L309.0 569.2L307.7 569.1L306.4 569.1L305.1 568.4L303.8 568.9L302.5 568.9L301.2 568.4L299.9 568.9L298.6 568.5L297.3 568.4L296.0 568.9L294.7 568.7L293.4 569.2L292.1 569.0L290.8 568.4L289.5 568.6L288.2 568.5L286.9 568.7L285.6 569.0L284.3 569.5L283.0 568.7L281.7 569.8L280.4 570.0L279.1 569.9L277.8 568.8L276.5 569.1L275.2 569.2L273.9 569.0L272.6 569.1L271.3 569.2L270.0 569.8L268.7 569.2L267.4 570.4L266.1 569.2L264.8 569.2L263.5 569.8L262.2 570.4L260.9 569.5L259.6 570.1L258.3 569.9L257.0 569.6L255.7 570.4L254.4 570.0L253.1 570.1L251.8 571.7L250.5 570.0L249.2 570.7L247.9 571.3L246.6 570.4L245.3 570.4L244.0 570.7L242.7 572.5L241.4 569.8L240.1 571.5L238.8 570.3L237.5 570.5L236.2 569.7L234.9 570.9L233.6 570.7L232.3 569.6L231.0 570.5L229.7 569.9L228.4 571.1L227.1 570.5L225.8 570.9L224.5 570.9L223.2 570.7L221.9 570.3L220.6 572.3L219.3 572.0L218.0 570.0L216.7 570.6L215.4 569.9L214.1 569.9L212.8 572.9L211.5 572.8L210.2 570.5L208.9 570.0L207.6 570.0L206.3 572.0L205.0 570.2L203.7 572.1L202.4 573.0L201.1 570.0L199.8 571.3L198.5 570.3L197.2 571.3L195.9 572.8L194.6 570.2L193.3 573.0L192.0 572.7L190.7 572.6L189.4 571.4L188.1 570.9L186.8 570.8L185.5 571.3L184.2 570.8L182.9 570.6L181.6 574.0L180.3 573.5L179.0 574.4L177.7 574.4L176.4 572.9L175.1 571.8L173.8 574.7L172.5 572.7L171.2 577.0L169.9 578.8L168.6 574.1L167.3 576.6L166.0 577.1L164.7 575.5L163.4 581.6L162.1 574.7L160.8 578.7L159.5 578.1Z" fill="#670748" /></g><clipPath id="clipb"><rect x="160.6" y="630.0" width="875.1" height="554.5"/></clipPath><g clip-path="url(#clipb)"><path d="M159.5 630.0L162.0 630.0L164.5 693.7L166.1 821.0L167.1 916.4L169.3 948.3L172.5 957.8L177.3 938.7L185.2 922.8L191.6 929.2L199.6 945.1L209.1 951.5L213.9 938.7L218.7 957.8L221.8 943.5L228.2 967.4L237.7 973.7L250.5 976.9L263.2 970.6L274.4 962.6L285.5 948.3L291.9 951.5L296.6 948.3L301.4 929.2L304.6 910.1L311.0 878.2L317.3 836.9L320.5 801.9L325.3 757.3L328.5 706.4L331.6 661.8L333.2 650.7L338.7 647.5L342.0 647.5L343.2 661.8L346.4 687.3L348.9 719.1L352.7 741.4L355.9 763.7L359.1 789.1L362.3 814.6L367.1 836.9L370.2 856.0L375.0 884.6L379.8 903.7L384.6 914.9L390.9 918.0L394.8 911.7L399.8 911.7L405.2 922.8L410.0 910.1L417.1 902.1L422.1 902.1L425.9 913.3L435.5 919.6L441.8 926.0L446.6 941.9L453.0 941.9L457.8 954.6L460.6 943.5L464.4 943.5L467.3 951.5L469.2 922.8L473.0 922.8L480.0 929.2L483.2 894.2L489.6 881.4L494.4 846.4L499.1 821.0L505.5 805.0L508.7 789.1L515.0 773.2L519.8 766.9L526.2 757.3L530.1 757.3L534.0 765.1L537.9 771.5L540.4 786.9L543.5 784.4L546.6 784.4L548.2 802.4L552.0 823.0L554.6 833.3L561.0 835.9L564.9 843.6L567.5 861.6L571.3 871.9L575.2 871.9L580.4 887.4L584.2 905.4L591.9 910.5L597.1 920.8L602.2 926.0L610.0 926.0L612.3 908.0L614.8 908.0L616.4 931.1L620.8 944.0L626.7 920.8L630.6 918.3L635.0 918.3L637.8 944.0L640.9 915.7L644.7 889.9L647.8 887.4L651.4 887.4L653.7 933.7L657.6 892.5L661.5 843.6L665.3 843.6L669.2 889.9L673.0 864.2L676.9 812.7L682.1 812.7L686.7 864.2L689.8 812.7L693.6 783.1L697.5 783.1L702.6 848.7L706.5 825.6L709.1 775.4L712.5 774.7L715.6 774.7L717.0 794.6L719.4 811.0L721.7 838.0L724.6 808.7L727.6 785.2L730.4 784.0L733.7 784.0L735.8 820.4L740.1 859.2L744.0 820.4L747.6 816.9L751.8 816.9L755.8 858.0L759.3 881.5L761.4 858.0L765.2 858.0L768.7 860.4L773.4 890.9L776.9 907.3L781.6 883.8L785.1 878.0L789.9 878.0L793.4 905.0L797.3 926.1L800.4 897.9L805.1 892.1L808.1 892.1L811.4 924.9L816.8 919.1L821.5 900.3L825.0 885.0L828.6 885.0L833.3 907.3L839.1 888.5L845.0 851.0L848.5 849.8L853.3 849.8L856.8 890.9L861.4 855.7L864.9 804.0L869.2 804.0L872.0 805.2L875.5 832.2L876.2 860.3L878.5 865.0L882.0 843.9L885.6 818.1L887.9 794.6L890.7 793.4L894.0 793.4L896.1 820.4L899.6 850.9L903.2 873.2L906.7 832.1L911.4 801.6L914.2 799.3L918.0 799.3L920.8 827.4L926.6 882.6L931.3 818.1L936.0 782.9L940.2 782.9L944.2 820.4L947.8 881.4L951.3 907.2L956.0 867.3L960.7 808.7L963.5 805.2L966.8 805.2L968.9 827.4L972.4 902.5L976.6 936.6L981.8 872.0L986.5 821.6L990.5 821.6L994.7 848.6L998.2 890.8L1001.7 941.3L1006.4 900.2L1013.5 839.2L1018.2 839.2L1022.9 897.9L1031.1 896.7L1036.0 889.6L1036.0 1017.5L1029.9 998.8L1022.9 973.0L1014.8 1034.0L1009.8 1034.0L1004.1 991.7L998.2 969.4L990.0 1024.6L987.2 1025.8L982.8 1025.8L977.1 984.7L968.9 1008.2L962.0 1022.2L957.0 1022.2L951.3 1010.5L945.6 1019.9L940.7 1019.9L937.2 1012.8L933.7 1028.1L928.8 1028.1L913.7 1007.0L904.5 1029.3L899.5 1029.3L891.4 1000.0L884.5 1029.3L880.8 1029.3L879.1 1028.2L870.8 997.7L861.6 1025.9L856.6 1025.9L852.1 980.1L841.6 1016.5L836.6 1016.5L829.7 966.0L822.9 1015.3L817.9 1015.3L811.0 955.5L807.5 1003.6L802.6 1003.6L798.0 1002.4L791.0 987.1L781.8 1014.1L776.8 1014.1L768.7 1005.9L763.0 1022.4L758.0 1022.4L751.1 1011.8L744.2 1030.6L739.2 1030.6L733.5 1024.7L727.8 1034.1L722.8 1034.1L717.0 1024.7L710.0 1034.1L706.5 1034.1L694.9 1010.9L691.8 1026.4L687.3 1026.4L680.8 998.1L676.8 1021.2L671.8 1021.2L667.9 992.9L661.5 1008.4L657.6 1008.4L651.2 982.6L646.0 996.8L643.7 998.1L640.1 998.1L637.0 967.2L631.9 982.6L626.7 982.6L620.3 967.2L613.8 977.5L611.5 990.3L607.5 990.3L602.2 977.5L591.9 982.6L588.8 1003.2L584.3 1003.2L576.5 992.9L566.2 1008.4L557.2 1021.2L550.7 1026.4L543.0 1031.5L540.7 1041.8L536.7 1041.8L530.1 1038.0L525.0 1031.5L522.8 1034.2L518.9 1034.2L511.9 1027.8L501.6 1031.0L496.6 1031.0L489.6 1024.7L480.0 1015.1L476.2 1024.7L471.8 1024.7L468.9 1011.9L462.5 994.4L451.4 989.6L441.8 983.3L432.3 970.6L422.8 976.9L410.0 980.1L407.1 1000.8L403.5 1000.8L401.0 978.0L398.8 996.0L395.4 996.0L392.5 972.1L381.4 973.7L370.2 980.1L363.9 989.6L357.5 1002.4L349.5 1011.9L340.0 1018.3L336.4 1018.3L331.6 1005.5L326.9 1011.9L323.0 1021.5L318.0 1021.5L314.1 1019.9L307.8 1011.9L301.4 1002.4L291.9 989.6L287.1 1005.5L282.3 986.5L277.5 999.2L272.8 983.3L260.0 986.5L247.3 983.3L234.6 983.3L223.4 986.5L212.3 976.9L202.7 967.4L193.2 951.5L186.8 945.1L180.5 948.3L175.7 973.7L172.5 996.0L169.3 999.2L166.1 996.0L163.0 980.1L161.0 900.0L159.5 700.0Z" fill="#bc8f8f" /><path d="M159.5 630.0L162.0 630.0L164.5 693.7L166.1 821.0L167.1 916.4L169.3 948.3L170.9 953.0L172.5 957.8L174.1 951.4L175.7 945.1L177.3 938.7L178.9 935.5L180.5 932.3L182.0 929.2L183.6 926.0L185.2 918.2L186.8 916.6L188.4 926.0L190.0 918.7L191.6 929.2L193.2 932.4L194.8 935.6L196.4 935.9L198.0 941.9L199.6 941.2L201.2 946.2L202.8 941.6L204.3 948.3L205.9 949.4L207.5 950.4L209.1 951.5L210.7 947.2L212.3 943.0L213.9 938.7L215.5 945.1L217.1 951.4L218.7 957.8L220.2 950.6L221.8 943.5L223.4 949.5L225.0 955.5L226.6 961.4L228.2 959.9L229.8 968.5L231.4 969.5L232.9 970.5L234.5 971.6L236.1 972.7L237.7 969.7L239.3 974.1L240.9 974.5L242.5 974.9L244.1 975.3L245.7 969.0L247.3 976.1L248.9 976.5L250.5 972.1L252.1 976.1L253.7 975.3L255.3 970.3L256.9 970.7L258.4 973.0L260.0 966.0L261.6 971.4L263.2 970.6L264.8 969.5L266.4 961.6L268.0 961.8L269.6 966.0L271.2 964.9L272.8 963.7L274.4 962.6L276.0 960.6L277.6 958.5L279.2 956.5L280.7 954.4L282.3 952.4L283.9 950.3L285.5 939.4L287.1 949.1L288.7 949.9L290.3 950.7L291.9 951.5L293.5 950.4L295.0 946.1L296.6 948.3L298.2 941.9L299.8 935.6L301.4 929.2L303.0 919.7L304.6 910.1L306.2 902.1L307.8 894.2L309.4 886.2L311.0 878.2L312.6 867.9L314.1 857.5L315.7 847.2L317.3 836.9L318.9 819.4L320.5 801.9L322.1 787.0L323.7 772.2L325.3 757.3L326.9 731.8L328.5 706.4L330.1 684.1L331.6 661.8L333.2 650.7L335.0 649.6L336.9 648.6L338.7 647.5L340.4 647.5L342.0 647.5L343.2 661.8L344.8 674.5L346.4 687.3L348.9 719.1L350.8 730.2L352.7 741.4L354.3 752.5L355.9 763.7L357.5 776.4L359.1 789.1L360.7 801.9L362.3 814.6L363.9 822.0L365.5 829.5L367.1 836.9L368.6 846.5L370.2 856.0L371.8 865.5L373.4 875.1L375.0 884.6L376.6 891.0L378.2 897.3L379.8 903.7L381.4 907.4L383.0 911.2L384.6 914.9L386.2 915.7L387.8 916.5L389.3 917.2L390.9 918.0L392.9 914.9L394.8 911.7L396.5 911.7L398.1 911.7L399.8 911.7L401.6 915.4L403.4 919.1L405.2 922.8L406.8 918.6L408.4 914.3L410.0 910.1L411.8 908.1L413.6 906.1L415.3 904.1L417.1 902.1L418.8 902.1L420.4 902.1L422.1 902.1L424.0 907.7L425.9 913.3L427.5 914.3L429.1 915.4L430.7 916.5L432.3 917.5L433.9 918.5L435.5 919.6L437.1 921.2L438.6 922.8L440.2 924.4L441.8 926.0L443.4 931.3L445.0 936.6L446.6 941.9L448.2 941.9L449.8 941.9L451.4 941.9L453.0 941.9L454.6 946.1L456.2 950.4L457.8 954.6L460.6 943.5L462.5 943.5L464.4 943.5L467.3 951.5L469.2 922.8L471.1 922.8L473.0 922.8L474.8 924.4L476.5 926.0L478.2 927.6L480.0 929.2L481.6 911.7L483.2 894.2L484.8 891.0L486.4 887.8L488.0 884.6L489.6 881.4L491.2 869.7L492.8 858.1L494.4 846.4L496.0 837.9L497.5 829.5L499.1 821.0L500.7 817.0L502.3 813.0L503.9 809.0L505.5 805.0L507.1 797.0L508.7 789.1L510.3 785.1L511.9 781.2L513.4 777.2L515.0 773.2L516.6 771.1L518.2 769.0L519.8 766.9L521.4 764.5L523.0 762.1L524.6 759.7L526.2 757.3L528.2 757.3L530.1 757.3L532.0 761.2L534.0 765.1L536.0 768.3L537.9 771.5L540.4 786.9L542.0 785.6L543.5 784.4L545.1 784.4L546.6 784.4L548.2 802.4L550.1 812.7L552.0 823.0L554.6 833.3L556.2 833.9L557.8 834.6L559.4 835.2L561.0 835.9L563.0 839.8L564.9 843.6L567.5 861.6L569.4 866.8L571.3 871.9L573.2 871.9L575.2 871.9L576.9 877.1L578.7 882.2L580.4 887.4L582.3 896.4L584.2 905.4L585.7 906.4L587.3 907.4L588.8 908.5L590.4 909.5L591.9 910.5L593.6 913.9L595.4 917.4L597.1 920.8L598.8 922.5L600.5 924.3L602.2 926.0L603.8 926.0L605.3 926.0L606.9 926.0L608.4 926.0L610.0 926.0L612.3 908.0L614.8 908.0L616.4 931.1L618.6 937.5L620.8 944.0L622.8 936.3L624.7 928.5L626.7 920.8L628.7 919.5L630.6 918.3L632.8 918.3L635.0 918.3L637.8 944.0L639.3 929.9L640.9 915.7L642.8 902.8L644.7 889.9L646.3 888.6L647.8 887.4L649.6 887.4L651.4 887.4L653.7 933.7L655.7 913.1L657.6 892.5L659.5 868.0L661.5 843.6L663.4 843.6L665.3 843.6L667.2 866.8L669.2 889.9L671.1 877.0L673.0 864.2L675.0 838.5L676.9 812.7L678.6 812.7L680.4 812.7L682.1 812.7L683.6 829.9L685.2 847.0L686.7 864.2L688.2 838.5L689.8 812.7L691.7 797.9L693.6 783.1L695.5 783.1L697.5 783.1L699.2 805.0L700.9 826.8L702.6 848.7L704.5 837.2L706.5 825.6L709.1 775.4L710.8 775.0L712.5 774.7L714.0 774.7L715.6 774.7L717.0 794.6L719.4 811.0L721.7 838.0L724.6 808.7L726.1 797.0L727.6 785.2L730.4 784.0L732.1 784.0L733.7 784.0L735.8 820.4L738.0 839.8L740.1 859.2L742.0 839.8L744.0 820.4L745.8 818.6L747.6 816.9L749.7 816.9L751.8 816.9L753.8 837.5L755.8 858.0L757.5 869.8L759.3 881.5L761.4 858.0L763.3 858.0L765.2 858.0L766.9 859.2L768.7 860.4L770.3 870.6L771.8 880.7L773.4 890.9L775.1 899.1L776.9 907.3L778.5 899.5L780.0 891.6L781.6 883.8L783.4 880.9L785.1 878.0L786.7 878.0L788.3 878.0L789.9 878.0L791.6 891.5L793.4 905.0L795.3 915.5L797.3 926.1L798.8 912.0L800.4 897.9L802.0 896.0L803.5 894.0L805.1 892.1L806.6 892.1L808.1 892.1L809.8 908.5L811.4 924.9L813.2 923.0L815.0 921.0L816.8 919.1L818.4 912.8L819.9 906.6L821.5 900.3L823.2 892.6L825.0 885.0L826.8 885.0L828.6 885.0L830.2 892.4L831.7 899.9L833.3 907.3L835.2 901.0L837.2 894.8L839.1 888.5L841.1 876.0L843.0 863.5L845.0 851.0L846.8 850.4L848.5 849.8L850.1 849.8L851.7 849.8L853.3 849.8L855.0 870.3L856.8 890.9L858.3 879.2L859.9 867.4L861.4 855.7L863.2 829.9L864.9 804.0L867.1 804.0L869.2 804.0L872.0 805.2L873.8 818.7L875.5 832.2L876.2 860.3L878.5 865.0L880.2 854.5L882.0 843.9L883.8 831.0L885.6 818.1L887.9 794.6L890.7 793.4L892.4 793.4L894.0 793.4L896.1 820.4L897.9 835.6L899.6 850.9L901.4 862.0L903.2 873.2L905.0 852.7L906.7 832.1L908.3 821.9L909.8 811.8L911.4 801.6L914.2 799.3L916.1 799.3L918.0 799.3L920.8 827.4L922.7 845.8L924.7 864.2L926.6 882.6L928.2 861.1L929.7 839.6L931.3 818.1L932.9 806.4L934.4 794.6L936.0 782.9L938.1 782.9L940.2 782.9L942.2 801.6L944.2 820.4L946.0 850.9L947.8 881.4L949.5 894.3L951.3 907.2L952.9 893.9L954.4 880.6L956.0 867.3L957.6 847.8L959.1 828.2L960.7 808.7L963.5 805.2L965.2 805.2L966.8 805.2L968.9 827.4L970.6 865.0L972.4 902.5L974.5 919.5L976.6 936.6L978.3 915.1L980.1 893.5L981.8 872.0L983.4 855.2L984.9 838.4L986.5 821.6L988.5 821.6L990.5 821.6L992.6 835.1L994.7 848.6L996.5 869.7L998.2 890.8L1000.0 916.0L1001.7 941.3L1003.3 927.6L1004.8 913.9L1006.4 900.2L1008.2 885.0L1010.0 869.7L1011.7 854.5L1013.5 839.2L1015.1 839.2L1016.6 839.2L1018.2 839.2L1019.8 858.8L1021.3 878.3L1022.9 897.9L1024.5 897.7L1026.2 897.4L1027.8 897.2L1029.5 896.9L1031.1 896.7L1032.7 894.3L1034.4 892.0L1036.0 889.6" fill="none" stroke="#0000ff" stroke-width="1.5" stroke-linejoin="round"/><path d="M159.5 700.0L161.0 900.0L163.0 980.1L164.6 988.0L166.1 996.0L167.7 997.6L169.3 999.2L170.9 997.6L172.5 996.0L174.1 987.9L175.7 973.7L177.3 965.2L178.9 956.8L180.5 948.3L182.1 947.5L183.7 946.7L185.2 945.9L186.8 951.2L188.4 956.0L190.0 957.0L191.6 957.7L193.2 951.5L194.8 954.1L196.4 956.8L197.9 962.9L199.5 962.1L201.1 964.8L202.7 977.3L204.3 969.0L205.9 976.5L207.5 977.3L209.1 973.7L210.7 983.2L212.3 981.1L213.9 978.3L215.5 979.6L217.1 981.0L218.6 982.4L220.2 983.8L221.8 985.1L223.4 994.6L225.0 986.0L226.6 985.6L228.2 985.1L229.8 984.7L231.4 984.2L233.0 983.8L234.6 983.3L236.2 987.9L237.8 983.3L239.4 983.3L240.9 983.3L242.5 983.3L244.1 992.1L245.7 983.3L247.3 983.3L248.9 983.7L250.5 984.1L252.1 984.5L253.7 984.9L255.2 992.1L256.8 993.6L258.4 991.0L260.0 986.5L261.6 986.1L263.2 991.9L264.8 985.3L266.4 984.9L268.0 984.5L269.6 984.1L271.2 983.7L272.8 983.3L274.4 998.1L275.9 993.9L277.5 999.2L279.1 995.0L280.7 990.7L282.3 991.4L283.9 992.8L285.5 999.2L287.1 1005.5L288.7 1003.5L290.3 994.9L291.9 989.6L293.5 991.7L295.1 993.9L296.6 1001.3L298.2 998.1L299.8 1000.3L301.4 1002.4L303.0 1004.8L304.6 1007.1L306.2 1009.5L307.8 1011.9L309.4 1013.9L311.0 1015.9L312.5 1017.9L314.1 1019.9L316.1 1020.7L318.0 1021.5L319.7 1021.5L321.3 1021.5L323.0 1021.5L324.9 1016.7L326.9 1011.9L328.5 1009.8L330.0 1007.6L331.6 1005.5L333.2 1009.8L334.8 1014.0L336.4 1018.3L338.2 1018.3L340.0 1018.3L341.6 1017.2L343.2 1016.2L344.8 1015.1L346.3 1014.0L347.9 1013.0L349.5 1011.9L351.1 1010.0L352.7 1008.1L354.3 1006.2L355.9 1004.3L357.5 1002.4L359.1 999.2L360.7 996.0L362.3 992.8L363.9 989.6L365.5 987.2L367.0 984.9L368.6 982.5L370.2 980.1L371.8 979.2L373.4 978.3L375.0 977.4L376.6 976.4L378.2 975.5L379.8 974.6L381.4 973.7L383.0 973.5L384.6 973.2L386.2 973.0L387.7 972.8L389.3 972.6L390.9 972.3L392.5 972.1L395.4 996.0L397.1 996.0L398.8 996.0L401.0 978.0L403.5 1000.8L405.3 1000.8L407.1 1000.8L410.0 980.1L411.6 979.7L413.2 979.3L414.8 978.9L416.4 978.5L418.0 978.1L419.6 977.7L421.2 977.3L422.8 976.9L424.4 975.9L426.0 974.8L427.6 973.8L429.1 972.7L430.7 971.6L432.3 970.6L433.9 972.7L435.5 974.8L437.1 977.0L438.6 979.1L440.2 981.2L441.8 983.3L443.4 984.3L445.0 985.4L446.6 986.5L448.2 987.5L449.8 988.5L451.4 989.6L453.0 990.3L454.6 991.0L456.2 991.7L457.7 992.3L459.3 993.0L460.9 993.7L462.5 994.4L464.1 998.8L465.7 1003.1L467.3 1007.5L468.9 1011.9L471.8 1024.7L474.0 1024.7L476.2 1024.7L478.1 1019.9L480.0 1015.1L481.6 1016.7L483.2 1018.3L484.8 1019.9L486.4 1021.5L488.0 1023.1L489.6 1024.7L491.4 1026.3L493.1 1027.8L494.9 1029.4L496.6 1031.0L498.3 1031.0L499.9 1031.0L501.6 1031.0L503.3 1030.5L505.0 1029.9L506.8 1029.4L508.5 1028.9L510.2 1028.3L511.9 1027.8L513.6 1029.4L515.4 1031.0L517.1 1032.6L518.9 1034.2L520.9 1034.2L522.8 1034.2L525.0 1031.5L526.7 1033.7L528.4 1035.8L530.1 1038.0L531.8 1039.0L533.4 1039.9L535.1 1040.8L536.7 1041.8L538.7 1041.8L540.7 1041.8L543.0 1031.5L544.5 1030.5L546.1 1029.5L547.6 1028.4L549.2 1027.4L550.7 1026.4L552.3 1025.1L554.0 1023.8L555.6 1022.5L557.2 1021.2L558.7 1019.1L560.2 1016.9L561.7 1014.8L563.2 1012.7L564.7 1010.5L566.2 1008.4L567.9 1005.8L569.6 1003.2L571.4 1000.6L573.1 998.1L574.8 995.5L576.5 992.9L578.1 995.0L579.6 997.0L581.2 999.1L582.7 1001.1L584.3 1003.2L585.8 1003.2L587.3 1003.2L588.8 1003.2L590.4 992.9L591.9 982.6L593.6 981.8L595.3 980.9L597.0 980.0L598.8 979.2L600.5 978.4L602.2 977.5L604.0 981.8L605.7 986.0L607.5 990.3L609.5 990.3L611.5 990.3L613.8 977.5L615.4 974.9L617.0 972.4L618.7 969.8L620.3 967.2L621.9 971.1L623.5 974.9L625.1 978.8L626.7 982.6L628.4 982.6L630.2 982.6L631.9 982.6L633.6 977.5L635.3 972.3L637.0 967.2L638.5 982.7L640.1 998.1L641.9 998.1L643.7 998.1L646.0 996.8L647.7 992.1L649.5 987.3L651.2 982.6L652.8 989.0L654.4 995.5L656.0 1002.0L657.6 1008.4L659.5 1008.4L661.5 1008.4L663.1 1004.5L664.7 1000.6L666.3 996.8L667.9 992.9L669.8 1007.0L671.8 1021.2L673.5 1021.2L675.1 1021.2L676.8 1021.2L678.8 1009.7L680.8 998.1L682.4 1005.2L684.0 1012.2L685.7 1019.3L687.3 1026.4L688.8 1026.4L690.3 1026.4L691.8 1026.4L693.4 1018.7L694.9 1010.9L696.6 1014.2L698.2 1017.5L699.9 1020.8L701.5 1024.2L703.2 1027.5L704.8 1030.8L706.5 1034.1L708.2 1034.1L710.0 1034.1L711.8 1031.8L713.5 1029.4L715.2 1027.0L717.0 1024.7L718.9 1027.8L720.9 1031.0L722.8 1034.1L724.5 1034.1L726.1 1034.1L727.8 1034.1L729.7 1031.0L731.6 1027.8L733.5 1024.7L735.4 1026.7L737.3 1028.6L739.2 1030.6L740.9 1030.6L742.5 1030.6L744.2 1030.6L745.9 1025.9L747.7 1021.2L749.4 1016.5L751.1 1011.8L752.8 1014.4L754.5 1017.1L756.3 1019.8L758.0 1022.4L759.7 1022.4L761.3 1022.4L763.0 1022.4L764.9 1016.9L766.8 1011.4L768.7 1005.9L770.3 1007.5L771.9 1009.2L773.6 1010.8L775.2 1012.5L776.8 1014.1L778.5 1014.1L780.1 1014.1L781.8 1014.1L783.3 1009.6L784.9 1005.1L786.4 1000.6L787.9 996.1L789.5 991.6L791.0 987.1L792.8 990.9L794.5 994.8L796.2 998.6L798.0 1002.4L799.5 1002.8L801.1 1003.2L802.6 1003.6L804.2 1003.6L805.8 1003.6L807.5 1003.6L809.2 979.5L811.0 955.5L812.7 970.5L814.5 985.4L816.2 1000.3L817.9 1015.3L819.6 1015.3L821.2 1015.3L822.9 1015.3L824.6 1003.0L826.3 990.6L828.0 978.3L829.7 966.0L831.4 978.6L833.2 991.2L834.9 1003.9L836.6 1016.5L838.3 1016.5L839.9 1016.5L841.6 1016.5L843.1 1011.3L844.6 1006.1L846.1 1000.9L847.6 995.7L849.1 990.5L850.6 985.3L852.1 980.1L853.6 995.4L855.1 1010.6L856.6 1025.9L858.3 1025.9L859.9 1025.9L861.6 1025.9L863.1 1021.2L864.7 1016.5L866.2 1011.8L867.7 1007.1L869.3 1002.4L870.8 997.7L872.5 1003.8L874.1 1009.9L875.8 1016.0L877.4 1022.1L879.1 1028.2L880.8 1029.3L882.7 1029.3L884.5 1029.3L886.2 1022.0L888.0 1014.6L889.7 1007.3L891.4 1000.0L893.0 1005.9L894.6 1011.7L896.3 1017.6L897.9 1023.4L899.5 1029.3L901.2 1029.3L902.8 1029.3L904.5 1029.3L906.0 1025.6L907.6 1021.9L909.1 1018.1L910.6 1014.4L912.2 1010.7L913.7 1007.0L915.2 1009.1L916.7 1011.2L918.2 1013.3L919.7 1015.4L921.2 1017.5L922.8 1019.7L924.3 1021.8L925.8 1023.9L927.3 1026.0L928.8 1028.1L930.4 1028.1L932.0 1028.1L933.7 1028.1L935.4 1020.4L937.2 1012.8L939.0 1016.3L940.7 1019.9L942.4 1019.9L944.0 1019.9L945.6 1019.9L947.5 1016.8L949.4 1013.6L951.3 1010.5L953.2 1014.4L955.1 1018.3L957.0 1022.2L958.7 1022.2L960.3 1022.2L962.0 1022.2L963.7 1018.7L965.5 1015.2L967.2 1011.7L968.9 1008.2L970.5 1003.5L972.2 998.8L973.8 994.1L975.5 989.4L977.1 984.7L979.0 998.4L980.9 1012.1L982.8 1025.8L985.0 1025.8L987.2 1025.8L990.0 1024.6L991.6 1013.6L993.3 1002.5L994.9 991.5L996.6 980.4L998.2 969.4L1000.2 976.8L1002.1 984.3L1004.1 991.7L1006.0 1005.8L1007.9 1019.9L1009.8 1034.0L1011.5 1034.0L1013.1 1034.0L1014.8 1034.0L1016.4 1021.8L1018.0 1009.6L1019.7 997.4L1021.3 985.2L1022.9 973.0L1024.7 979.5L1026.4 985.9L1028.2 992.3L1029.9 998.8L1031.4 1003.5L1033.0 1008.1L1034.5 1012.8L1036.0 1017.5" fill="none" stroke="#0000ff" stroke-width="1.5" stroke-linejoin="round"/><path d="M159.5 1145.3L260.0 1145.3L280.0 1144.2L300.0 1143.4L320.0 1143.4L340.0 1144.2L360.0 1145.0L1036.0 1145.3" fill="none" stroke="#670748" stroke-width="2.6" stroke-linejoin="round"/></g><clipPath id="clipc"><rect x="1052.8" y="57.3" width="874.4" height="555.9"/></clipPath><g clip-path="url(#clipc)"><path d="M1052.0 85.9L1054.9 87.9L1056.9 119.4L1058.9 145.0L1061.8 168.6L1063.3 176.5L1064.8 184.4L1067.7 182.7L1069.7 200.0L1071.7 193.6L1073.7 201.3L1075.6 201.2L1077.2 189.2L1078.9 201.8L1080.5 201.2L1082.5 187.5L1084.5 196.1L1086.5 196.4L1088.4 188.8L1090.3 199.7L1092.3 198.9L1094.0 193.1L1095.6 193.5L1097.3 198.7L1098.9 197.2L1100.6 190.4L1102.2 197.6L1104.2 197.6L1106.1 200.7L1107.7 201.2L1109.4 201.3L1111.0 191.8L1113.0 203.5L1115.0 200.8L1116.7 199.6L1118.5 196.5L1120.2 198.3L1121.9 182.0L1124.8 195.5L1126.8 197.8L1128.7 198.4L1130.7 191.8L1132.7 193.1L1134.7 178.4L1136.7 188.1L1138.6 188.4L1140.5 187.0L1142.5 180.3L1144.5 186.8L1146.5 187.8L1148.5 189.9L1150.4 191.8L1152.4 195.7L1154.4 198.7L1156.3 200.2L1158.3 201.8L1159.9 198.8L1161.6 201.2L1163.2 202.0L1164.8 192.3L1166.5 201.6L1168.1 192.5L1170.1 193.9L1172.0 196.8L1174.0 194.4L1175.5 201.7L1177.0 192.2L1178.5 201.5L1180.0 202.6L1182.0 202.6L1183.9 203.0L1185.9 199.5L1187.6 197.4L1189.2 191.6L1190.9 185.6L1192.5 189.1L1194.2 190.7L1195.8 194.6L1197.8 197.6L1199.8 184.9L1201.8 189.0L1203.7 190.2L1205.2 193.0L1206.7 192.2L1208.7 192.5L1210.6 180.6L1212.6 185.5L1214.5 180.3L1216.5 178.5L1218.5 178.3L1220.1 173.2L1221.6 172.1L1223.2 172.1L1224.7 162.3L1226.3 172.6L1228.3 170.9L1229.9 168.9L1231.6 155.5L1233.2 157.8L1234.2 135.1L1235.8 135.1L1237.5 135.1L1239.1 135.1L1241.1 123.3L1243.0 123.3L1245.0 123.3L1247.0 129.2L1248.6 129.2L1250.3 129.2L1251.9 129.2L1252.9 148.9L1254.5 149.9L1256.2 150.9L1257.8 151.9L1259.8 176.5L1261.4 176.8L1263.1 177.2L1264.7 177.5L1266.7 187.3L1268.3 187.3L1270.0 187.3L1271.6 187.3L1273.6 183.4L1275.1 187.2L1276.7 183.4L1278.2 183.4L1279.8 183.4L1281.3 188.0L1282.9 186.5L1284.4 193.2L1285.9 191.5L1287.4 183.7L1289.0 186.5L1290.7 193.2L1292.3 194.2L1294.2 191.4L1296.2 191.5L1298.0 192.0L1299.8 189.6L1301.5 189.1L1303.3 188.8L1305.1 188.9L1307.1 186.2L1309.0 182.8L1311.0 168.1L1313.0 175.4L1315.0 175.2L1317.0 175.8L1318.9 175.6L1320.9 173.5L1322.6 169.6L1324.2 169.5L1325.9 170.6L1327.8 163.7L1329.8 156.8L1331.8 151.9L1333.8 146.9L1335.4 143.3L1337.1 139.7L1338.7 136.1L1340.4 135.8L1342.2 135.6L1343.9 135.3L1345.6 135.1L1347.5 137.1L1349.5 139.1L1351.0 148.9L1352.5 158.8L1355.4 164.7L1357.1 165.2L1358.8 165.6L1360.6 166.1L1362.3 166.6L1364.0 171.2L1365.6 178.8L1367.3 185.0L1369.3 186.4L1371.2 187.4L1373.2 187.9L1375.2 187.5L1377.1 188.0L1379.1 184.4L1381.0 189.9L1383.0 189.0L1384.5 189.0L1386.0 188.6L1388.5 176.9L1390.2 176.4L1391.9 175.6L1394.8 182.8L1396.3 196.0L1397.8 193.9L1399.8 167.3L1401.7 170.6L1403.7 165.3L1405.6 160.1L1407.6 154.8L1409.2 154.8L1410.9 154.8L1412.5 154.8L1414.5 172.5L1416.1 177.1L1417.8 181.7L1419.4 186.3L1420.9 188.3L1422.4 190.3L1425.3 162.7L1427.0 156.1L1428.6 149.6L1430.3 143.0L1433.2 129.2L1434.8 120.3L1436.5 111.5L1438.1 102.6L1440.1 102.6L1442.1 102.6L1444.0 111.0L1446.0 119.4L1448.0 129.2L1449.9 139.1L1451.9 150.9L1453.9 150.9L1455.9 150.9L1458.0 172.5L1459.6 175.1L1461.3 177.8L1462.9 180.4L1464.8 185.4L1466.8 190.3L1468.8 169.6L1470.8 169.9L1472.7 170.3L1474.7 170.6L1476.7 168.6L1478.6 166.7L1480.6 164.7L1482.6 150.9L1484.2 151.2L1485.9 151.6L1487.5 151.9L1490.4 158.8L1492.1 160.1L1493.7 161.4L1495.4 162.7L1497.3 168.6L1499.3 174.5L1501.2 192.4L1503.2 182.4L1504.9 187.5L1506.5 197.1L1508.2 190.0L1510.2 190.4L1512.1 197.5L1514.1 189.2L1516.0 188.7L1518.0 191.6L1519.6 192.1L1521.3 195.0L1522.9 202.0L1524.9 191.9L1526.9 200.8L1528.8 194.6L1530.8 178.4L1532.8 166.6L1534.7 154.8L1536.2 146.9L1537.7 139.1L1539.7 134.1L1541.6 129.2L1543.6 129.2L1545.6 129.2L1547.5 133.1L1549.5 137.1L1551.5 142.0L1553.4 146.9L1555.4 152.9L1557.4 158.8L1559.3 166.7L1561.3 174.5L1563.3 182.4L1565.3 190.3L1567.2 182.4L1569.2 174.5L1571.2 171.2L1573.1 168.0L1575.1 164.7L1577.1 164.7L1579.0 164.7L1581.0 164.7L1582.6 167.3L1584.3 169.9L1585.9 172.5L1587.6 177.1L1589.2 181.7L1590.9 186.3L1593.0 188.3L1594.6 189.0L1596.3 189.6L1597.9 190.3L1599.6 190.8L1601.3 191.2L1603.1 191.7L1604.8 192.2L1606.4 185.3L1608.1 178.5L1609.7 171.6L1611.7 173.1L1613.6 174.5L1615.3 169.6L1617.0 164.7L1618.8 159.7L1620.5 154.8L1622.1 152.4L1623.7 150.1L1625.2 147.7L1626.8 145.4L1628.4 143.0L1630.4 139.7L1632.3 136.5L1634.3 133.2L1635.9 129.6L1637.5 126.1L1639.0 122.5L1640.6 119.0L1642.2 115.4L1644.2 115.4L1646.1 115.4L1647.6 127.2L1649.1 139.1L1651.0 142.1L1653.0 145.0L1655.0 151.9L1656.9 158.8L1658.4 158.8L1659.9 158.8L1661.8 168.6L1663.8 178.4L1665.5 182.4L1667.1 186.3L1668.8 190.3L1670.4 190.3L1671.9 190.3L1673.5 190.3L1675.0 190.3L1676.6 190.3L1678.6 180.4L1680.6 170.6L1682.2 168.0L1683.9 165.3L1685.5 162.7L1687.5 162.7L1689.4 162.7L1691.4 162.7L1693.3 169.6L1695.3 176.5L1697.3 181.4L1699.3 186.3L1701.3 186.3L1703.2 186.3L1705.2 186.3L1706.8 185.7L1708.5 185.0L1710.1 184.4L1712.0 177.5L1714.0 170.6L1716.0 158.8L1718.0 146.9L1720.0 139.1L1721.9 131.2L1723.9 125.3L1725.9 119.4L1727.4 121.4L1728.9 123.3L1730.4 125.3L1731.9 127.3L1733.5 127.3L1735.2 127.3L1736.8 127.3L1738.3 141.1L1739.8 154.8L1741.8 166.6L1743.7 178.4L1745.3 184.3L1747.0 190.3L1748.6 196.2L1750.6 189.3L1752.6 182.4L1754.2 181.6L1755.7 180.8L1757.3 180.0L1758.8 179.2L1760.4 178.4L1762.4 173.5L1764.4 168.6L1766.0 166.0L1767.7 163.3L1769.3 160.7L1770.9 160.1L1772.6 159.4L1774.2 158.8L1775.7 150.9L1777.2 143.0L1779.2 135.6L1781.1 128.2L1783.1 128.7L1785.1 129.2L1788.0 138.1L1789.6 138.4L1791.3 138.8L1792.9 139.1L1794.9 139.4L1796.8 139.7L1798.8 140.0L1800.8 158.8L1802.4 159.4L1804.1 160.1L1805.7 160.7L1807.7 172.5L1809.7 173.2L1811.6 173.8L1813.6 174.5L1815.6 188.1L1817.2 178.4L1818.9 187.7L1820.5 194.0L1822.1 187.2L1823.8 195.2L1825.4 195.7L1827.4 196.1L1829.3 182.4L1831.3 183.9L1833.3 195.9L1834.9 183.2L1836.6 192.3L1838.2 180.8L1839.8 184.0L1841.5 197.9L1843.1 183.2L1845.0 202.6L1846.9 201.7L1849.0 202.3L1851.0 194.3L1852.6 190.4L1854.2 198.8L1855.8 199.2L1857.8 197.6L1859.8 185.9L1862.6 194.0L1864.6 197.1L1866.6 191.9L1869.5 184.8L1871.5 188.0L1873.5 159.8L1875.4 148.9L1877.1 139.7L1878.7 130.6L1880.4 121.4L1882.4 120.7L1884.3 120.1L1886.3 119.4L1887.9 121.0L1889.6 122.7L1891.2 124.3L1893.2 124.8L1895.1 125.3L1897.1 134.2L1899.1 143.0L1902.0 166.6L1904.0 169.6L1906.0 172.5L1908.0 175.4L1909.9 178.4L1911.9 175.0L1913.9 171.6L1915.9 171.6L1917.8 171.6L1919.8 171.6L1922.7 184.4L1924.2 181.4L1925.7 178.4L1928.5 176.5L1928.5 208.0L1922.7 202.1L1917.8 193.2L1913.9 195.2L1908.9 200.1L1906.0 194.2L1902.0 184.4L1899.1 166.6L1895.1 154.8L1891.2 147.0L1885.3 143.0L1881.4 148.9L1876.4 162.7L1872.5 182.4L1869.5 202.1L1865.6 217.8L1859.7 220.8L1855.0 223.7L1847.1 225.7L1839.2 224.7L1831.3 223.7L1823.4 217.8L1815.6 210.0L1809.7 198.1L1803.8 186.3L1797.8 166.6L1792.9 162.7L1789.0 158.8L1784.1 153.8L1778.2 166.6L1772.3 182.4L1764.4 190.3L1756.5 198.1L1752.6 206.0L1749.6 221.8L1747.6 213.9L1743.7 190.3L1739.8 168.6L1735.8 152.9L1730.9 146.9L1726.8 145.0L1723.9 150.9L1718.0 174.5L1713.1 202.1L1708.1 211.9L1702.2 208.0L1697.3 200.1L1692.4 190.3L1687.5 186.3L1682.5 190.3L1676.6 202.1L1670.7 211.9L1664.8 196.2L1658.9 178.4L1654.0 164.7L1649.1 148.9L1644.1 144.0L1640.2 146.9L1634.3 156.8L1629.4 164.7L1623.5 178.4L1617.6 192.2L1611.7 208.0L1605.8 215.9L1597.9 213.9L1590.9 198.1L1585.0 187.3L1580.0 184.4L1575.1 188.3L1570.2 194.2L1565.3 200.1L1559.4 184.4L1554.4 168.6L1550.5 156.8L1546.6 147.9L1542.6 148.9L1537.7 162.7L1533.8 182.4L1528.8 206.0L1523.9 221.8L1516.0 217.8L1508.2 213.9L1501.3 208.0L1495.4 194.2L1490.4 178.4L1486.5 174.5L1482.6 178.4L1476.7 188.3L1470.8 202.1L1465.8 211.9L1459.9 194.2L1455.9 178.4L1450.9 162.7L1446.0 139.1L1441.1 131.2L1436.2 141.0L1431.2 164.7L1426.3 194.2L1421.4 215.9L1418.4 209.9L1414.5 194.2L1409.6 186.3L1403.7 192.2L1398.8 206.0L1394.8 217.8L1388.9 213.9L1381.0 209.9L1373.2 204.0L1367.3 196.2L1361.3 186.3L1356.4 182.4L1351.5 172.5L1346.6 154.8L1342.6 148.9L1337.7 152.9L1331.8 166.6L1326.9 188.3L1320.0 186.3L1315.0 198.1L1307.1 206.0L1299.2 210.0L1293.3 213.9L1288.4 217.8L1284.4 210.0L1279.5 205.0L1273.6 210.0L1268.7 217.8L1263.8 206.0L1258.8 190.3L1253.9 176.5L1249.0 164.7L1244.1 159.7L1238.2 166.6L1232.3 180.4L1227.3 198.1L1222.4 206.0L1216.5 205.0L1210.6 210.0L1204.7 217.8L1198.8 221.8L1190.9 213.9L1185.0 215.9L1183.9 222.7L1176.0 223.7L1168.1 223.7L1162.2 221.8L1157.3 215.9L1152.4 209.0L1146.5 205.0L1140.6 204.0L1134.7 207.0L1128.8 210.9L1122.8 215.9L1116.9 219.8L1109.1 221.8L1101.2 223.7L1089.4 222.7L1077.6 221.8L1069.7 219.8L1065.8 213.9L1061.8 198.1L1058.9 178.4L1055.9 148.9L1053.0 109.5L1052.0 85.9Z" fill="#008b00" /><path d="M1052.0 85.9L1053.0 109.5L1055.9 148.9L1058.9 178.4L1061.8 198.1L1065.8 213.9L1069.7 219.8L1077.6 221.8L1089.4 222.7L1101.2 223.7L1109.1 221.8L1116.9 219.8L1122.8 215.9L1128.8 210.9L1134.7 207.0L1140.6 204.0L1146.5 205.0L1152.4 209.0L1157.3 215.9L1162.2 221.8L1168.1 223.7L1176.0 223.7L1183.9 222.7L1185.0 215.9L1190.9 213.9L1198.8 221.8L1204.7 217.8L1210.6 210.0L1216.5 205.0L1222.4 206.0L1227.3 198.1L1232.3 180.4L1238.2 166.6L1244.1 159.7L1249.0 164.7L1253.9 176.5L1258.8 190.3L1263.8 206.0L1268.7 217.8L1273.6 210.0L1279.5 205.0L1284.4 210.0L1288.4 217.8L1293.3 213.9L1299.2 210.0L1307.1 206.0L1315.0 198.1L1320.0 186.3L1326.9 188.3L1331.8 166.6L1337.7 152.9L1342.6 148.9L1346.6 154.8L1351.5 172.5L1356.4 182.4L1361.3 186.3L1367.3 196.2L1373.2 204.0L1381.0 209.9L1388.9 213.9L1394.8 217.8L1398.8 206.0L1403.7 192.2L1409.6 186.3L1414.5 194.2L1418.4 209.9L1421.4 215.9L1426.3 194.2L1431.2 164.7L1436.2 141.0L1441.1 131.2L1446.0 139.1L1450.9 162.7L1455.9 178.4L1459.9 194.2L1465.8 211.9L1470.8 202.1L1476.7 188.3L1482.6 178.4L1486.5 174.5L1490.4 178.4L1495.4 194.2L1501.3 208.0L1508.2 213.9L1516.0 217.8L1523.9 221.8L1528.8 206.0L1533.8 182.4L1537.7 162.7L1542.6 148.9L1546.6 147.9L1550.5 156.8L1554.4 168.6L1559.4 184.4L1565.3 200.1L1570.2 194.2L1575.1 188.3L1580.0 184.4L1585.0 187.3L1590.9 198.1L1597.9 213.9L1605.8 215.9L1611.7 208.0L1617.6 192.2L1623.5 178.4L1629.4 164.7L1634.3 156.8L1640.2 146.9L1644.1 144.0L1649.1 148.9L1654.0 164.7L1658.9 178.4L1664.8 196.2L1670.7 211.9L1676.6 202.1L1682.5 190.3L1687.5 186.3L1692.4 190.3L1697.3 200.1L1702.2 208.0L1708.1 211.9L1713.1 202.1L1718.0 174.5L1723.9 150.9L1726.8 145.0L1730.9 146.9L1735.8 152.9L1739.8 168.6L1743.7 190.3L1747.6 213.9L1749.6 221.8L1752.6 206.0L1756.5 198.1L1764.4 190.3L1772.3 182.4L1778.2 166.6L1784.1 153.8L1789.0 158.8L1792.9 162.7L1797.8 166.6L1803.8 186.3L1809.7 198.1L1815.6 210.0L1823.4 217.8L1831.3 223.7L1839.2 224.7L1847.1 225.7L1855.0 223.7L1859.7 220.8L1865.6 217.8L1869.5 202.1L1872.5 182.4L1876.4 162.7L1881.4 148.9L1885.3 143.0L1891.2 147.0L1895.1 154.8L1899.1 166.6L1902.0 184.4L1906.0 194.2L1908.9 200.1L1913.9 195.2L1917.8 193.2L1922.7 202.1L1928.5 208.0L1928.5 251.3L1926.6 253.3L1924.6 255.2L1922.7 257.2L1920.8 260.1L1918.8 263.1L1917.2 263.4L1915.5 263.8L1913.9 264.1L1911.9 261.6L1909.9 259.2L1908.3 261.2L1906.6 263.1L1905.0 265.1L1903.0 272.0L1901.0 278.9L1899.0 284.8L1897.1 290.7L1895.2 300.5L1893.2 310.4L1891.2 319.2L1889.2 328.1L1886.3 322.2L1884.7 315.0L1883.0 307.8L1881.4 300.6L1879.7 292.7L1878.1 284.8L1876.4 276.9L1874.8 270.3L1873.1 263.8L1871.5 257.2L1869.9 252.0L1868.2 246.7L1866.6 241.5L1865.0 240.8L1863.3 240.2L1861.7 239.5L1860.0 238.5L1858.3 237.5L1856.7 236.5L1855.0 235.5L1853.0 235.5L1851.0 235.5L1849.1 235.5L1847.1 235.5L1845.1 235.3L1843.2 235.1L1841.2 234.8L1839.2 234.6L1837.5 235.3L1835.8 236.1L1834.0 236.8L1832.3 237.5L1830.6 239.0L1828.8 240.4L1827.1 241.9L1825.4 243.4L1823.4 245.4L1821.5 247.4L1819.5 249.3L1817.5 251.3L1815.5 253.3L1813.6 255.2L1811.6 257.2L1809.6 262.4L1807.7 267.7L1805.7 272.9L1804.1 277.5L1802.4 282.1L1800.8 286.7L1799.2 287.4L1797.5 288.0L1795.9 288.7L1793.9 294.0L1792.0 299.2L1790.0 304.5L1788.0 303.2L1786.1 301.8L1784.1 300.5L1782.1 299.2L1780.2 297.9L1778.2 296.6L1776.2 290.7L1774.3 284.8L1772.3 278.9L1770.3 275.4L1768.3 272.0L1766.4 268.6L1764.4 265.1L1762.4 263.6L1760.5 262.1L1758.5 260.7L1756.5 259.2L1754.9 254.6L1753.2 250.0L1751.6 245.4L1749.6 243.4L1747.6 241.4L1746.0 248.6L1744.3 255.9L1742.7 263.1L1740.7 271.6L1738.8 280.2L1736.8 288.7L1734.8 302.5L1732.9 316.3L1730.9 322.2L1728.9 328.1L1727.8 326.1L1725.8 316.2L1723.9 306.4L1722.0 296.5L1720.0 286.7L1718.0 277.9L1716.0 269.0L1714.0 262.4L1712.1 255.9L1710.1 249.3L1708.1 249.3L1706.2 249.3L1704.2 249.3L1702.2 251.9L1700.3 254.6L1698.3 257.2L1696.3 261.1L1694.4 265.1L1692.4 269.0L1690.8 270.6L1689.1 272.3L1687.5 273.9L1685.8 272.9L1684.2 272.0L1682.5 271.0L1680.5 266.1L1678.6 261.1L1676.7 254.2L1674.7 247.4L1672.7 248.0L1670.8 248.7L1668.8 249.3L1667.1 251.9L1665.5 254.6L1663.8 257.2L1661.8 262.4L1659.9 267.7L1657.9 272.9L1656.3 279.5L1654.6 286.0L1653.0 292.6L1651.0 297.6L1649.1 302.5L1647.4 303.8L1645.8 305.1L1644.1 306.4L1642.5 308.4L1640.8 310.3L1639.2 312.3L1637.2 307.4L1635.3 302.5L1633.7 298.6L1632.0 294.6L1630.4 290.7L1628.7 287.4L1627.1 284.1L1625.4 280.8L1623.4 277.5L1621.5 274.3L1619.5 271.0L1617.5 265.1L1615.6 259.2L1613.6 253.3L1611.6 250.0L1609.7 246.7L1607.7 243.4L1605.7 243.9L1603.8 244.4L1601.8 244.9L1599.8 245.4L1597.8 246.1L1595.9 246.7L1593.9 247.4L1590.9 255.2L1589.2 259.8L1587.6 264.4L1585.9 269.0L1584.3 271.3L1582.6 273.6L1581.0 275.9L1579.0 272.9L1577.1 270.0L1575.1 267.0L1573.4 265.1L1571.7 263.1L1569.9 261.1L1568.2 259.2L1566.2 259.2L1564.3 259.2L1562.3 259.2L1560.7 264.4L1559.0 269.7L1557.4 274.9L1555.4 282.1L1553.5 289.4L1551.5 296.6L1549.9 301.8L1548.2 307.1L1546.6 312.3L1544.6 306.4L1542.6 300.5L1540.6 294.6L1539.0 287.4L1537.3 280.1L1535.7 272.9L1534.1 265.0L1532.4 257.2L1530.8 249.3L1528.8 242.4L1526.9 235.5L1525.2 236.8L1523.6 238.2L1521.9 239.5L1520.0 240.0L1518.0 240.4L1516.0 240.9L1514.1 241.4L1512.1 242.4L1510.2 243.4L1508.2 244.4L1506.2 245.4L1504.5 246.4L1502.8 247.4L1501.0 248.3L1499.3 249.3L1497.7 254.6L1496.0 259.8L1494.4 265.1L1492.8 269.0L1491.1 273.0L1489.5 276.9L1487.5 278.9L1485.5 280.8L1483.5 282.8L1481.8 280.3L1480.1 277.9L1478.4 275.4L1476.7 272.9L1474.7 267.0L1472.8 261.1L1470.8 255.2L1468.8 251.3L1466.8 247.4L1464.8 250.7L1462.9 253.9L1460.9 257.2L1459.0 261.1L1457.0 265.0L1453.9 286.7L1452.2 293.3L1450.6 299.8L1448.9 306.4L1447.3 309.0L1445.6 311.7L1444.0 314.3L1442.0 315.3L1440.1 316.3L1438.1 317.3L1436.2 313.9L1434.2 310.4L1432.2 300.5L1430.3 290.7L1428.3 277.9L1426.3 265.1L1424.3 255.2L1422.4 245.4L1420.4 247.4L1418.4 249.3L1416.5 255.2L1414.5 261.1L1412.5 263.7L1410.6 266.4L1408.6 269.0L1406.6 266.4L1404.7 263.7L1402.7 261.1L1400.8 255.2L1398.8 249.3L1396.8 245.4L1394.8 241.4L1393.1 242.4L1391.3 243.4L1389.6 244.4L1387.9 245.4L1386.2 247.4L1384.5 249.4L1382.7 251.3L1381.0 253.3L1379.0 254.6L1377.1 255.9L1375.1 257.2L1373.1 257.7L1371.2 258.2L1369.2 258.7L1367.3 259.2L1365.3 262.5L1363.3 265.7L1361.3 269.0L1359.3 272.3L1357.4 275.6L1355.4 278.9L1353.4 283.5L1351.5 288.0L1349.5 292.6L1347.9 297.9L1346.2 303.1L1344.6 308.4L1342.7 312.4L1340.7 316.3L1339.1 311.0L1337.4 305.8L1335.8 300.5L1333.8 290.6L1331.8 280.8L1329.8 278.8L1327.9 276.9L1325.9 274.9L1324.2 272.9L1322.4 270.9L1320.7 269.0L1318.9 267.0L1316.9 265.0L1315.0 263.1L1313.0 261.1L1311.0 257.8L1309.1 254.6L1307.1 251.3L1305.1 251.3L1303.2 251.3L1301.2 251.3L1299.2 251.3L1297.6 249.3L1295.9 247.4L1294.3 245.4L1292.7 244.1L1291.0 242.7L1289.4 241.4L1287.4 247.4L1285.4 253.3L1283.5 254.2L1281.5 255.2L1279.5 253.2L1277.6 251.3L1275.6 249.3L1273.6 247.3L1271.7 245.4L1269.7 243.4L1267.7 246.4L1265.7 249.3L1263.7 253.2L1261.8 257.2L1259.8 261.1L1258.2 266.4L1256.5 271.6L1254.9 276.9L1253.3 282.1L1251.6 287.4L1250.0 292.6L1248.3 294.9L1246.7 297.2L1245.0 299.5L1243.0 298.1L1241.1 296.6L1239.5 292.7L1237.8 288.7L1236.2 284.8L1234.2 278.9L1232.3 272.9L1230.3 267.0L1228.3 263.7L1226.4 260.5L1224.4 260.2L1222.4 256.7L1220.5 259.2L1218.5 260.8L1216.5 255.2L1214.5 255.9L1212.6 254.2L1210.6 249.3L1208.6 248.8L1206.7 244.0L1204.7 247.3L1202.7 240.1L1200.8 238.8L1198.8 237.5L1196.8 243.2L1194.8 240.1L1192.9 237.5L1190.9 237.5L1189.2 240.7L1187.4 236.1L1185.7 235.3L1183.9 234.6L1181.9 234.8L1180.0 240.6L1178.0 238.3L1176.0 235.5L1174.0 238.6L1172.0 236.5L1170.1 237.0L1168.1 237.5L1166.1 238.0L1164.2 242.8L1162.2 239.0L1160.3 239.5L1158.6 241.5L1157.0 247.5L1155.3 245.4L1153.3 249.4L1151.4 253.3L1149.8 257.0L1148.1 254.6L1146.5 255.2L1144.9 256.2L1143.2 260.2L1141.6 258.2L1139.9 256.6L1138.3 254.9L1136.6 253.3L1134.6 253.3L1132.7 253.3L1130.7 253.3L1128.8 254.1L1126.8 249.7L1124.8 251.6L1122.9 245.4L1120.9 250.4L1118.9 243.7L1117.0 242.9L1115.0 247.9L1113.0 241.4L1111.0 247.4L1109.0 240.9L1107.1 240.7L1105.1 240.5L1103.1 240.7L1101.2 240.9L1099.2 244.3L1097.3 241.4L1095.3 241.7L1093.3 245.6L1091.4 242.2L1089.4 242.4L1087.4 244.3L1085.5 241.9L1083.5 241.7L1081.5 241.4L1079.5 246.8L1077.6 242.7L1075.6 249.1L1073.6 247.9L1071.7 243.5L1069.7 239.5L1067.8 242.4L1065.8 248.1L1062.8 251.3L1059.8 261.1L1056.9 276.9L1054.9 306.4L1053.0 326.1L1052.0 330.0Z" fill="#670748" /><path d="M1052.0 472.0L1054.3 474.8L1055.1 497.5L1057.2 501.8L1059.0 503.5L1060.8 502.0L1062.7 503.2L1064.5 508.4L1065.9 507.3L1067.4 511.0L1068.8 510.5L1070.2 507.7L1071.7 506.6L1073.5 512.0L1075.3 512.2L1077.0 514.3L1078.7 517.7L1080.4 520.5L1081.8 518.5L1083.2 517.3L1084.7 519.5L1086.1 514.6L1087.9 514.3L1089.8 507.4L1091.6 510.9L1093.4 515.1L1094.8 515.9L1096.3 517.9L1097.7 514.6L1099.2 516.3L1100.6 516.3L1102.0 516.5L1103.5 518.8L1104.9 517.7L1106.4 519.1L1107.8 521.4L1109.2 525.1L1110.7 525.4L1112.1 526.3L1113.6 529.1L1115.0 528.5L1116.5 527.7L1118.0 530.0L1119.4 529.6L1120.9 527.8L1122.3 529.7L1123.8 529.8L1125.2 531.7L1126.7 529.6L1128.1 526.1L1129.5 527.8L1131.0 522.3L1132.4 522.5L1133.8 522.6L1135.3 518.2L1136.7 518.5L1138.2 516.4L1139.6 520.0L1141.0 520.8L1142.5 520.3L1144.0 521.1L1145.4 518.1L1146.8 519.4L1148.3 518.5L1149.8 517.9L1151.2 516.9L1152.7 518.5L1154.1 519.0L1155.6 517.0L1157.0 517.8L1158.5 514.7L1159.9 518.0L1161.4 515.9L1162.8 515.6L1164.2 513.1L1165.7 508.8L1167.1 511.9L1168.6 515.7L1170.0 514.8L1171.4 519.8L1172.9 518.5L1174.3 518.5L1175.8 518.3L1177.2 522.1L1178.6 519.2L1180.1 520.1L1181.5 517.6L1183.0 516.5L1184.5 509.4L1185.9 508.1L1187.4 509.7L1188.8 512.2L1190.2 513.1L1191.7 514.3L1193.2 511.0L1194.6 510.9L1196.0 509.9L1197.5 511.5L1198.9 509.7L1200.3 503.8L1201.8 501.7L1203.2 499.9L1204.7 495.5L1206.1 492.4L1207.6 491.0L1209.0 487.5L1210.5 484.0L1211.9 471.9L1213.3 468.8L1214.8 466.8L1216.2 469.4L1217.7 469.3L1219.1 469.4L1221.3 458.3L1223.5 442.7L1225.6 431.6L1227.3 436.9L1229.0 437.6L1230.7 439.2L1232.5 435.3L1234.3 429.9L1236.1 430.6L1237.9 429.7L1239.4 432.4L1240.8 429.4L1242.3 429.5L1243.8 438.3L1245.2 446.0L1246.7 442.6L1248.1 436.6L1249.5 430.7L1250.9 426.4L1253.1 444.2L1255.3 460.0L1257.1 459.5L1258.9 465.2L1260.3 472.0L1261.8 477.7L1263.2 475.4L1264.7 472.9L1266.5 470.9L1268.3 467.4L1269.8 474.5L1271.2 478.7L1272.6 479.3L1274.1 482.3L1275.5 483.1L1277.0 484.6L1278.4 487.4L1279.9 488.4L1281.3 494.7L1282.8 495.2L1284.2 495.7L1285.7 501.7L1287.1 501.3L1288.5 500.3L1290.0 503.3L1291.4 501.5L1292.9 504.5L1294.3 506.7L1295.8 506.5L1297.2 506.1L1298.7 504.3L1300.1 505.6L1301.6 505.2L1303.0 508.8L1304.4 508.5L1305.9 510.7L1307.3 509.8L1308.8 510.3L1310.2 514.1L1311.7 516.0L1313.1 516.6L1314.6 517.6L1316.0 518.8L1317.5 519.6L1318.9 517.2L1320.4 518.7L1321.8 517.9L1323.3 516.0L1324.7 516.0L1326.1 517.5L1327.6 517.4L1329.0 519.4L1330.5 520.5L1331.9 518.3L1333.5 519.7L1335.0 519.2L1336.5 519.4L1337.9 517.2L1339.3 516.8L1340.8 517.2L1342.6 512.4L1344.4 507.7L1346.6 520.5L1348.4 518.1L1350.2 514.3L1352.0 516.3L1353.8 520.7L1355.5 519.8L1357.2 514.9L1358.9 516.4L1360.3 516.7L1361.8 515.4L1363.2 514.6L1364.6 515.1L1366.1 515.3L1367.5 519.8L1369.0 515.2L1370.4 514.8L1371.8 512.9L1373.3 507.9L1375.1 507.2L1376.9 508.9L1378.4 507.5L1379.8 504.3L1381.3 503.6L1382.7 501.3L1384.2 502.4L1385.6 499.6L1387.0 494.0L1388.5 494.7L1389.9 496.0L1391.4 495.4L1392.8 494.7L1394.6 489.4L1396.4 481.2L1398.2 480.4L1400.1 485.1L1401.5 485.6L1403.0 486.9L1405.8 479.9L1407.7 467.3L1409.5 458.7L1411.6 459.2L1413.8 470.8L1415.6 472.5L1417.4 474.2L1418.8 470.3L1420.3 468.4L1421.8 463.9L1423.2 461.8L1424.7 462.4L1426.1 468.2L1427.5 466.2L1429.0 467.0L1430.5 468.0L1431.9 469.7L1433.7 465.8L1435.5 466.1L1437.3 461.4L1439.1 458.7L1440.5 459.6L1442.0 457.8L1443.4 461.2L1445.2 462.7L1447.0 464.4L1448.7 468.7L1450.4 466.1L1452.1 467.8L1453.5 474.0L1455.0 478.3L1456.8 473.2L1458.6 470.2L1460.3 469.9L1462.0 470.4L1463.7 466.6L1465.2 475.1L1466.6 479.7L1468.0 480.9L1469.5 484.1L1470.9 483.9L1472.6 485.1L1474.3 486.9L1476.0 488.5L1477.8 485.8L1479.6 485.8L1481.0 484.9L1482.5 484.6L1484.0 485.1L1485.4 483.7L1486.8 485.9L1488.3 487.6L1489.7 491.5L1491.2 491.6L1492.6 493.4L1494.0 494.8L1495.5 492.8L1496.9 495.7L1498.4 498.7L1499.8 499.7L1501.2 492.1L1502.7 487.6L1504.2 495.1L1505.6 498.9L1507.0 501.3L1508.5 501.8L1509.9 506.2L1511.4 503.8L1512.8 501.5L1514.3 495.1L1515.8 498.5L1517.2 499.0L1518.6 497.9L1520.1 502.9L1521.5 504.7L1522.9 503.7L1524.4 509.4L1525.8 509.4L1527.5 506.4L1529.2 505.2L1530.9 501.2L1532.3 501.9L1533.8 507.1L1535.2 511.3L1536.7 508.1L1538.1 505.0L1539.6 503.2L1541.7 513.8L1543.2 506.2L1544.6 505.3L1546.1 500.9L1547.5 499.3L1548.9 501.9L1550.3 506.8L1551.8 509.9L1553.3 503.2L1554.7 503.3L1556.2 498.1L1557.6 500.3L1559.1 497.7L1560.5 500.0L1562.0 501.6L1563.4 508.2L1564.9 508.8L1566.3 499.8L1567.8 493.1L1569.2 487.0L1570.7 486.7L1572.1 484.1L1573.6 483.5L1575.7 497.2L1577.5 496.4L1579.3 497.8L1581.1 496.9L1582.9 498.8L1584.8 488.3L1586.6 473.3L1588.0 471.4L1589.5 475.6L1592.3 488.8L1593.8 490.5L1595.2 487.9L1596.7 492.6L1598.1 486.8L1599.6 488.8L1601.0 485.1L1602.5 480.2L1603.9 476.8L1605.3 478.4L1606.8 475.4L1608.2 474.7L1609.7 476.2L1611.1 474.4L1612.6 473.2L1614.0 475.4L1615.5 476.6L1616.9 479.5L1618.5 477.3L1620.0 474.5L1621.5 475.1L1623.1 471.4L1625.0 477.0L1627.0 480.1L1628.9 479.4L1630.8 475.9L1632.4 480.0L1633.9 481.1L1635.5 487.4L1637.0 482.7L1638.6 477.1L1640.1 474.7L1641.6 476.4L1643.2 472.2L1644.7 475.4L1646.7 479.9L1648.6 486.3L1650.5 489.3L1652.5 488.9L1654.4 480.6L1656.3 472.5L1658.2 477.2L1660.2 477.8L1661.7 481.6L1663.3 482.6L1664.8 483.9L1666.8 484.7L1668.7 486.3L1670.5 487.5L1672.3 490.8L1674.1 493.3L1675.6 493.8L1677.2 488.7L1678.7 485.4L1680.3 484.7L1681.8 488.1L1683.4 488.0L1684.9 488.1L1686.5 487.3L1688.0 488.1L1689.5 491.5L1691.1 495.4L1692.7 496.9L1694.2 501.5L1695.8 499.1L1697.3 500.6L1698.9 499.1L1700.4 495.8L1701.9 492.3L1703.5 493.4L1705.0 488.5L1706.5 489.2L1708.1 487.6L1709.6 490.4L1711.2 491.6L1712.7 492.5L1714.3 496.2L1715.8 502.8L1717.4 505.2L1718.9 504.8L1720.5 501.7L1722.0 501.3L1723.5 493.9L1725.1 488.3L1726.7 484.6L1728.2 478.9L1729.7 485.7L1731.3 490.6L1732.8 496.7L1734.3 500.4L1735.9 504.8L1737.4 509.6L1739.0 505.4L1740.5 503.0L1742.1 503.8L1743.6 495.4L1745.2 493.5L1746.7 488.5L1748.7 485.4L1750.6 489.3L1752.5 493.4L1754.4 496.1L1756.0 499.2L1757.5 502.1L1759.1 501.4L1760.7 499.5L1762.2 495.6L1763.7 494.0L1765.3 490.8L1766.8 487.8L1768.3 484.8L1769.9 484.2L1771.4 484.6L1773.0 485.9L1774.5 485.0L1776.1 483.8L1777.6 484.5L1779.2 485.7L1780.7 483.3L1782.3 485.8L1783.8 483.5L1785.3 483.6L1786.9 483.3L1788.4 483.3L1790.0 483.0L1791.5 480.8L1793.0 485.5L1794.6 485.9L1796.1 485.6L1797.7 486.5L1799.2 487.8L1800.8 485.6L1802.3 489.4L1803.9 487.7L1805.4 487.1L1807.0 486.2L1808.5 486.3L1810.1 481.8L1811.6 479.9L1813.2 476.5L1814.7 470.0L1816.2 473.9L1817.8 478.8L1819.3 484.1L1820.9 488.0L1822.4 491.0L1824.0 494.7L1825.5 490.8L1827.1 490.2L1828.6 489.8L1830.2 483.8L1831.7 473.6L1833.3 466.6L1834.8 466.6L1836.3 470.0L1837.8 477.4L1839.4 485.5L1841.0 490.3L1842.5 494.8L1844.1 497.7L1845.6 496.2L1847.2 493.4L1848.7 490.8L1850.2 486.7L1851.8 488.0L1853.4 482.5L1854.9 483.7L1856.4 486.1L1858.0 484.1L1859.5 489.2L1861.1 489.8L1862.6 489.4L1864.2 486.1L1865.8 481.3L1867.3 477.1L1868.8 484.1L1870.4 484.3L1871.9 489.7L1873.5 493.7L1875.0 501.9L1876.5 496.5L1878.1 485.5L1879.6 481.6L1881.2 478.6L1882.7 478.7L1884.3 476.4L1885.8 478.8L1887.4 486.5L1888.9 489.3L1890.5 488.3L1892.0 489.7L1893.5 494.0L1895.1 495.3L1896.6 493.8L1898.2 492.2L1899.8 492.5L1901.3 491.6L1902.8 490.9L1904.3 483.5L1905.9 484.4L1907.4 481.6L1909.0 479.8L1910.5 485.1L1912.1 485.7L1913.6 490.1L1915.2 491.0L1916.7 495.0L1918.2 493.0L1919.8 493.6L1921.3 489.8L1922.9 486.7L1924.4 485.0L1926.0 482.2L1928.5 478.4L1928.5 539.7L1926.0 534.7L1924.5 536.4L1922.9 532.1L1921.3 530.5L1919.8 530.1L1918.2 528.2L1916.7 524.7L1915.1 522.2L1913.6 519.5L1912.0 523.5L1910.5 528.1L1909.0 533.0L1907.4 539.7L1905.9 537.8L1904.3 539.1L1902.8 534.7L1901.2 535.5L1899.7 533.7L1898.2 533.6L1896.6 533.2L1895.1 533.9L1893.5 533.5L1892.0 532.9L1890.4 531.6L1888.9 531.5L1887.3 530.5L1885.8 530.9L1884.3 531.9L1882.7 534.2L1881.2 532.2L1879.6 533.6L1878.1 532.7L1876.5 532.8L1875.0 533.7L1873.4 532.4L1871.9 535.5L1870.3 534.1L1868.8 533.6L1867.2 534.0L1865.7 534.6L1864.2 531.9L1862.6 532.1L1861.1 534.8L1859.5 535.5L1858.0 534.9L1856.4 534.9L1854.9 534.3L1853.3 536.7L1851.8 536.7L1850.2 534.7L1848.7 534.3L1847.2 533.8L1845.6 530.8L1844.0 533.3L1842.5 531.7L1841.0 529.9L1839.4 532.6L1837.9 534.0L1836.3 535.5L1834.8 536.2L1833.2 535.6L1831.7 534.3L1830.2 533.9L1828.6 534.0L1827.0 532.0L1825.5 532.0L1824.0 533.9L1822.4 534.5L1820.9 533.2L1819.3 533.7L1817.8 535.8L1816.2 535.8L1814.7 537.8L1813.2 537.1L1811.6 533.2L1810.1 531.7L1808.5 529.0L1807.0 526.9L1805.4 526.1L1803.9 526.0L1802.3 530.9L1800.8 532.0L1799.2 536.0L1797.7 535.6L1796.2 538.5L1794.6 534.7L1793.1 533.6L1791.5 532.8L1790.0 532.1L1788.5 529.6L1786.9 527.2L1785.3 523.8L1783.8 522.7L1782.2 527.6L1780.7 526.4L1779.2 529.1L1777.6 532.9L1776.0 535.5L1774.5 537.3L1773.0 540.4L1771.4 541.7L1769.9 538.4L1768.3 537.9L1766.8 536.9L1765.2 531.2L1763.7 530.3L1762.2 525.5L1760.6 523.4L1759.1 521.9L1757.6 527.0L1756.0 531.0L1754.5 530.4L1752.9 536.2L1751.4 540.5L1749.9 536.5L1748.3 533.5L1746.8 533.3L1745.2 528.8L1743.7 525.8L1742.1 525.6L1740.5 523.0L1739.0 520.9L1737.5 522.1L1735.9 524.6L1734.3 530.7L1732.8 532.8L1731.2 535.5L1729.7 538.8L1728.2 533.5L1726.6 530.0L1725.1 526.0L1723.5 523.0L1722.0 518.3L1720.4 516.1L1718.9 522.3L1717.3 529.1L1715.8 531.6L1714.3 538.6L1712.8 536.3L1711.2 536.7L1709.7 535.0L1708.1 534.1L1706.5 534.5L1705.0 533.3L1703.5 536.0L1701.9 533.3L1700.4 533.1L1698.8 535.2L1697.3 534.0L1695.7 532.9L1694.2 533.0L1692.7 533.8L1691.1 531.2L1689.6 532.1L1688.0 532.4L1686.5 529.7L1684.9 530.1L1683.4 533.9L1681.8 535.7L1680.3 536.1L1678.7 535.3L1677.2 538.9L1675.7 536.1L1674.1 535.5L1672.6 535.8L1671.0 533.4L1669.5 531.4L1667.9 531.5L1666.4 533.3L1664.9 534.1L1663.3 533.4L1661.8 532.1L1660.2 532.6L1658.6 534.5L1657.1 534.2L1655.6 536.5L1654.0 536.6L1652.5 539.0L1650.9 535.0L1649.4 540.2L1647.8 535.7L1646.3 538.1L1644.8 534.9L1643.2 536.0L1641.7 532.5L1640.1 535.3L1638.5 530.7L1637.0 529.7L1635.5 530.8L1633.9 532.7L1632.4 533.6L1630.8 538.4L1629.3 540.8L1627.8 537.1L1626.4 539.4L1624.9 537.6L1623.5 535.9L1622.0 531.5L1620.2 536.4L1618.4 536.7L1616.9 539.9L1615.5 538.5L1614.0 539.5L1612.6 544.1L1611.1 541.7L1609.7 541.7L1608.2 538.4L1606.8 532.7L1605.3 530.2L1603.9 527.8L1602.5 528.5L1601.0 529.8L1599.6 530.3L1598.1 532.5L1596.7 532.0L1595.1 533.9L1593.5 536.3L1591.8 536.2L1590.2 538.1L1588.6 536.3L1587.0 535.8L1585.3 532.7L1583.7 534.0L1582.1 532.4L1580.5 535.9L1578.9 535.2L1577.3 535.4L1575.7 536.1L1574.1 534.4L1572.5 533.2L1571.0 533.1L1569.4 530.2L1567.8 529.4L1566.3 530.5L1564.9 532.3L1563.4 534.7L1562.0 534.2L1560.5 532.7L1559.1 532.1L1557.6 533.4L1556.2 532.6L1554.7 528.1L1553.3 527.8L1551.8 529.7L1550.4 535.4L1549.0 539.4L1547.5 543.1L1546.1 539.8L1544.6 536.3L1543.2 530.8L1541.7 526.2L1540.3 521.0L1538.8 523.2L1537.4 520.1L1536.0 521.1L1534.5 521.0L1533.0 525.4L1531.6 522.2L1530.2 527.8L1528.7 525.2L1527.3 527.4L1525.8 529.0L1524.4 527.4L1523.0 532.1L1521.5 530.5L1520.1 533.2L1518.6 530.9L1517.2 525.0L1515.7 524.7L1514.3 522.7L1512.8 522.6L1511.4 524.5L1509.9 522.1L1508.5 524.9L1507.1 527.7L1505.6 526.6L1504.2 528.9L1502.7 527.2L1501.3 527.3L1499.8 527.4L1498.4 528.3L1496.9 529.6L1495.5 529.1L1494.0 526.1L1492.6 527.9L1491.1 526.2L1489.7 528.3L1488.3 527.0L1486.8 530.5L1485.4 528.8L1484.0 528.2L1482.5 530.1L1481.1 529.3L1479.6 528.2L1478.2 530.5L1476.7 530.2L1475.2 528.9L1473.8 531.0L1472.3 530.9L1470.9 531.8L1469.5 534.0L1468.0 533.4L1466.5 534.8L1465.1 533.0L1463.7 532.3L1462.2 530.2L1460.8 533.3L1459.3 529.0L1457.9 532.8L1456.4 532.5L1455.0 533.9L1453.6 535.9L1452.1 533.1L1450.7 533.8L1449.2 534.1L1447.8 535.8L1446.3 536.3L1444.9 535.2L1443.5 534.7L1442.0 537.3L1440.5 536.3L1439.1 535.2L1437.6 535.4L1436.2 536.0L1434.8 538.5L1433.3 538.0L1431.8 534.7L1430.4 537.2L1429.0 536.4L1427.5 536.6L1426.1 536.7L1424.6 532.8L1423.2 533.7L1421.8 533.3L1420.3 533.4L1418.9 533.3L1417.5 535.1L1416.0 536.0L1414.5 541.7L1413.1 542.3L1411.6 540.6L1410.2 537.7L1408.8 535.3L1407.3 532.5L1405.8 531.5L1404.4 531.3L1403.0 531.3L1401.5 531.6L1400.0 532.9L1398.6 530.9L1397.2 529.3L1395.7 528.3L1394.1 534.8L1392.5 535.3L1390.8 536.0L1389.2 537.2L1387.7 537.3L1386.1 538.9L1384.6 533.9L1383.0 533.0L1381.5 532.1L1379.9 532.8L1378.4 533.8L1376.9 529.9L1375.5 529.4L1374.0 530.8L1372.6 526.9L1371.1 525.4L1369.7 527.3L1368.2 530.4L1366.8 533.1L1365.4 536.5L1364.0 533.7L1362.5 532.8L1361.1 533.7L1359.6 530.6L1358.2 530.7L1356.7 528.8L1355.2 533.2L1353.8 532.6L1352.4 534.3L1350.9 535.3L1349.5 537.4L1348.0 536.5L1346.6 533.8L1345.1 536.0L1343.7 534.2L1342.2 532.3L1340.8 534.0L1339.3 533.5L1337.8 530.4L1336.4 533.3L1334.9 531.1L1333.4 531.2L1332.0 529.1L1330.5 532.4L1329.1 531.3L1327.6 528.7L1326.2 530.0L1324.7 530.2L1323.3 530.5L1321.8 530.8L1320.4 529.7L1318.9 528.7L1317.5 529.1L1316.0 528.0L1314.6 528.7L1313.1 527.8L1311.7 528.5L1310.2 529.7L1308.8 528.5L1307.3 525.0L1305.9 523.5L1304.4 524.9L1303.0 524.0L1301.6 519.2L1300.1 519.9L1298.7 515.9L1297.2 513.7L1295.8 513.7L1294.4 512.7L1292.9 509.8L1291.5 509.4L1290.0 511.9L1288.5 509.3L1287.1 511.1L1285.6 513.8L1284.2 515.6L1282.8 513.6L1281.3 515.3L1279.8 517.1L1278.4 517.5L1277.0 519.8L1275.5 524.2L1274.1 521.5L1272.7 521.8L1271.2 523.5L1269.8 525.7L1268.3 526.5L1266.9 524.9L1265.5 526.5L1264.0 526.1L1262.5 526.0L1261.1 530.8L1259.7 529.7L1258.2 530.8L1256.8 534.4L1255.3 532.9L1253.9 534.1L1252.4 535.6L1251.0 537.9L1249.5 535.4L1248.1 535.9L1246.6 534.8L1245.2 533.2L1243.7 532.1L1242.2 531.4L1240.8 529.9L1239.4 529.5L1237.9 530.4L1236.5 531.7L1235.1 529.6L1233.6 528.7L1232.2 530.7L1230.8 529.8L1229.3 527.4L1227.9 526.6L1226.4 525.4L1225.0 526.6L1223.5 523.2L1222.0 519.5L1220.6 521.6L1219.1 522.2L1217.7 523.0L1216.2 526.5L1214.8 528.1L1213.3 531.9L1211.9 527.1L1210.5 529.4L1209.0 525.8L1207.5 529.3L1206.1 523.8L1204.7 525.8L1203.2 523.3L1201.8 524.6L1200.3 526.0L1198.9 527.9L1197.4 529.3L1196.0 529.6L1194.5 526.3L1193.1 528.5L1191.7 530.5L1190.2 530.3L1188.8 531.2L1187.3 529.3L1185.9 530.4L1184.5 529.4L1183.0 528.8L1181.6 527.1L1180.1 525.1L1178.7 525.3L1177.2 524.6L1175.8 525.6L1174.3 527.4L1172.9 527.3L1171.4 529.5L1170.0 529.5L1168.6 528.1L1167.1 532.6L1165.7 531.4L1164.2 529.9L1162.8 533.1L1161.3 529.9L1159.9 531.5L1158.4 534.2L1157.0 533.2L1155.5 534.7L1154.1 532.1L1152.7 533.0L1151.2 535.8L1149.8 536.3L1148.3 536.3L1146.9 535.2L1145.5 536.5L1144.0 534.3L1142.5 534.1L1141.1 531.6L1139.6 532.2L1138.2 530.2L1136.7 533.9L1135.3 530.5L1133.8 529.3L1132.4 530.1L1131.0 528.7L1129.5 527.2L1128.1 525.7L1126.6 525.3L1125.2 526.3L1123.7 526.4L1122.3 528.7L1120.8 524.9L1119.4 527.4L1117.9 523.3L1116.5 525.0L1115.0 525.7L1113.6 523.4L1112.2 524.4L1110.7 525.5L1109.2 524.6L1107.8 528.8L1106.4 528.1L1104.9 526.8L1103.5 530.7L1102.1 529.8L1100.6 527.2L1099.2 525.5L1097.7 529.5L1096.3 533.0L1094.8 535.1L1093.4 532.8L1091.9 527.5L1090.5 524.9L1089.0 522.7L1087.6 524.5L1086.2 519.0L1084.7 521.2L1083.2 521.3L1081.8 519.1L1080.4 516.1L1078.9 517.6L1077.5 517.9L1076.0 519.0L1074.5 517.3L1073.1 517.8L1071.6 513.5L1070.2 515.8L1068.8 513.6L1067.3 513.0L1065.9 511.9L1064.4 510.0L1063.0 511.0L1061.6 506.3L1060.1 511.1L1058.7 513.5L1057.2 511.9L1055.8 514.0L1054.3 509.4L1052.0 508.5Z" fill="#bc8f8f" /></g><clipPath id="clipd"><rect x="1052.8" y="629.5" width="874.4" height="555.0"/></clipPath><g clip-path="url(#clipd)"><path d="M1051.0 877.7L1056.4 879.6L1058.3 928.8L1060.2 951.6L1063.0 961.0L1069.6 962.0L1077.2 959.2L1082.0 954.4L1085.7 964.8L1092.4 964.8L1098.0 964.8L1101.8 968.6L1109.4 978.1L1117.0 974.3L1120.8 978.1L1128.4 970.5L1132.2 959.2L1135.9 976.2L1143.5 966.7L1148.8 942.1L1151.1 961.0L1158.7 953.5L1164.4 947.8L1172.0 947.8L1177.6 953.5L1187.1 950.6L1190.9 962.9L1194.7 956.3L1199.4 957.3L1201.3 964.8L1208.9 939.3L1210.8 962.9L1213.6 925.0L1219.3 921.3L1222.1 894.7L1225.0 875.8L1229.7 875.8L1232.6 860.6L1235.4 837.9L1237.3 821.8L1241.1 821.8L1243.0 851.2L1245.8 829.4L1250.6 829.4L1253.4 851.2L1257.2 828.4L1262.3 823.7L1266.3 823.7L1268.6 828.4L1270.5 868.2L1276.1 904.2L1279.0 888.1L1282.4 888.1L1284.7 889.0L1291.3 902.3L1293.0 888.1L1295.4 888.1L1297.1 906.7L1303.2 918.8L1309.2 950.3L1312.9 938.2L1317.7 921.2L1322.6 921.2L1328.6 926.1L1333.5 933.3L1338.3 952.7L1342.0 962.4L1342.7 944.2L1344.2 944.2L1345.6 960.0L1351.7 951.5L1356.5 951.5L1361.3 947.9L1365.7 947.9L1368.6 952.7L1375.9 952.7L1379.5 962.4L1383.2 945.5L1388.0 945.5L1391.7 961.2L1395.3 930.9L1400.2 924.8L1403.8 924.8L1406.2 943.0L1409.8 893.3L1413.5 893.3L1418.3 926.1L1423.2 867.9L1426.8 867.9L1430.5 913.9L1435.3 864.2L1440.2 864.2L1442.4 867.9L1444.4 911.5L1447.3 884.8L1450.2 880.0L1453.6 880.0L1455.8 884.8L1458.0 881.2L1460.8 881.2L1463.0 892.1L1467.9 893.3L1470.1 884.8L1473.5 884.8L1476.4 889.7L1481.2 895.8L1484.8 887.3L1488.5 872.7L1492.1 872.7L1495.8 889.7L1499.4 929.7L1503.0 887.3L1505.2 882.4L1508.1 882.4L1510.3 884.8L1513.9 901.8L1517.6 932.1L1523.6 932.1L1525.8 926.1L1529.2 926.1L1532.1 932.1L1537.0 945.5L1541.8 926.1L1544.7 901.8L1548.1 901.8L1550.3 904.2L1553.9 935.8L1561.2 950.3L1564.8 923.6L1567.7 922.4L1571.1 922.4L1573.3 945.5L1579.4 910.3L1583.0 910.3L1587.9 951.5L1591.5 933.3L1598.8 913.9L1603.6 913.9L1607.3 945.5L1609.7 900.6L1613.3 899.4L1616.2 877.6L1619.6 877.6L1621.8 924.8L1626.7 887.3L1630.3 887.3L1632.7 897.0L1636.9 913.9L1638.6 894.5L1642.2 894.5L1645.9 897.0L1650.8 921.2L1656.8 886.1L1660.5 886.1L1666.5 923.6L1670.2 912.7L1673.8 906.7L1677.4 873.9L1681.8 873.9L1684.7 876.4L1688.3 897.0L1692.0 939.4L1695.6 892.1L1699.2 864.2L1704.1 864.2L1707.7 897.0L1710.6 933.3L1713.8 901.8L1718.6 901.8L1722.3 916.4L1727.1 930.9L1732.0 904.2L1735.6 901.8L1740.0 901.8L1742.9 930.9L1746.5 918.8L1749.4 917.6L1753.3 917.6L1756.2 921.2L1762.3 935.8L1767.1 897.0L1773.2 897.0L1778.0 928.5L1784.1 928.5L1786.5 953.9L1790.2 911.5L1793.1 888.5L1797.4 888.5L1801.1 890.9L1804.7 911.5L1807.1 945.5L1810.8 909.1L1815.6 909.1L1819.2 921.2L1824.1 890.9L1827.7 890.9L1831.8 918.2L1834.5 940.0L1837.3 910.9L1840.9 905.5L1844.5 905.5L1847.3 907.3L1850.0 898.2L1852.7 898.2L1857.3 905.5L1860.9 936.4L1864.5 887.3L1868.2 871.8L1871.8 871.8L1874.5 892.7L1876.4 923.6L1880.0 886.4L1883.6 886.4L1888.2 901.8L1890.9 943.6L1893.6 925.5L1897.3 889.1L1900.9 881.8L1904.5 881.8L1908.2 896.4L1910.9 910.9L1913.6 929.1L1917.3 958.2L1920.0 921.8L1922.7 892.7L1925.5 868.2L1928.5 867.3L1928.5 1028.0L1927.2 1028.2L1924.9 1028.2L1922.7 1027.3L1917.3 990.0L1910.0 1010.9L1904.5 1021.8L1899.8 1025.5L1895.1 1025.5L1891.8 996.4L1888.6 1016.4L1884.2 1016.4L1880.9 1015.5L1877.6 989.1L1873.6 1027.3L1868.9 1031.8L1863.9 1031.8L1860.0 989.1L1855.2 1021.8L1850.9 1021.8L1848.2 1014.5L1845.4 1027.3L1841.4 1027.3L1838.2 1026.4L1832.7 989.1L1824.1 1017.0L1818.1 1018.2L1813.1 1018.2L1805.9 979.4L1798.7 1031.5L1793.7 1031.5L1786.5 979.4L1775.6 1023.0L1770.8 1026.7L1765.8 1026.7L1761.1 993.9L1753.9 1013.3L1748.9 1013.3L1741.7 1000.0L1734.5 1023.0L1729.6 1023.0L1725.9 1002.4L1718.7 1025.5L1713.7 1025.5L1708.9 1009.7L1706.0 1023.0L1701.7 1023.0L1698.0 1018.2L1692.0 997.6L1688.3 1029.1L1683.4 1029.1L1677.4 1012.1L1673.8 1025.5L1669.4 1025.5L1666.5 1018.2L1661.7 1026.7L1656.7 1026.7L1652.0 1015.8L1646.0 1026.7L1641.5 1026.7L1638.6 998.8L1634.0 1027.9L1629.0 1027.9L1621.8 989.1L1617.0 1036.4L1612.0 1036.4L1606.1 986.7L1600.1 1017.0L1595.1 1017.0L1586.7 991.5L1580.7 1020.6L1575.8 1020.6L1572.1 979.4L1570.7 1014.5L1567.2 1014.5L1561.2 991.5L1553.9 993.9L1549.2 1019.4L1544.2 1019.4L1537.0 998.8L1532.1 1001.2L1527.3 1023.0L1522.9 1023.0L1520.0 1006.1L1516.3 1021.8L1511.4 1021.8L1505.5 1019.4L1499.4 993.9L1494.5 1026.7L1489.8 1029.1L1485.3 1029.1L1482.4 1013.3L1476.4 1031.5L1471.4 1031.5L1466.7 1023.0L1461.9 1031.5L1456.9 1031.5L1447.3 1020.6L1440.0 1026.7L1437.9 1030.3L1434.1 1030.3L1430.5 1006.1L1426.8 1029.1L1422.0 1029.1L1418.3 993.9L1413.6 1021.8L1408.7 1021.8L1405.0 991.5L1400.2 1018.2L1395.8 1018.2L1392.9 991.5L1386.9 1008.5L1383.0 1008.5L1380.8 989.1L1373.5 1001.2L1366.3 1002.4L1361.3 1002.4L1351.7 996.4L1348.0 1001.2L1344.2 1001.2L1342.0 981.8L1332.3 989.1L1325.0 996.4L1321.3 1002.4L1317.5 1002.4L1315.3 991.5L1309.2 977.0L1303.2 998.8L1295.1 1012.2L1291.0 1019.8L1286.0 1019.8L1281.8 1010.3L1275.2 1004.6L1269.5 1025.5L1265.4 1036.8L1260.4 1036.8L1253.4 1025.5L1248.3 1031.1L1243.3 1031.1L1236.4 1030.2L1232.6 1010.3L1226.9 1023.6L1223.1 1023.6L1217.4 1016.0L1211.7 1012.2L1208.0 998.9L1202.3 1008.4L1198.5 998.9L1189.0 998.9L1181.4 1000.8L1173.8 1002.7L1162.5 998.9L1151.1 997.0L1143.5 995.2L1134.0 993.3L1124.6 995.2L1115.1 991.4L1107.5 987.6L1100.0 987.6L1092.4 983.8L1086.7 976.2L1079.1 976.2L1073.4 968.6L1065.8 978.1L1060.2 981.9L1054.5 983.8L1051.0 962.9Z" fill="#bc8f8f" /><path d="M1051.0 877.7L1052.8 878.3L1054.6 879.0L1056.4 879.6L1058.3 928.8L1060.2 951.6L1063.0 961.0L1064.7 961.2L1066.3 961.5L1067.9 961.8L1069.6 962.0L1071.1 961.4L1072.6 956.8L1074.2 960.3L1075.7 953.7L1077.2 959.2L1078.8 957.6L1080.4 956.0L1082.0 954.4L1083.8 959.6L1085.7 960.4L1087.4 956.6L1089.1 964.8L1090.7 964.8L1092.4 964.8L1094.3 964.8L1096.1 964.8L1098.0 964.8L1099.9 966.7L1101.8 968.6L1103.3 970.5L1104.8 972.4L1106.4 974.3L1107.9 976.2L1109.4 978.1L1110.9 977.3L1112.4 976.6L1114.0 968.0L1115.5 975.1L1117.0 974.3L1118.9 976.2L1120.8 978.1L1122.3 976.6L1123.8 968.1L1125.4 973.5L1126.9 968.0L1128.4 970.5L1130.3 964.9L1132.2 959.2L1134.1 967.7L1135.9 976.2L1137.4 968.5L1138.9 972.4L1140.5 970.5L1142.0 968.6L1143.5 966.7L1145.3 951.7L1147.0 950.3L1148.8 942.1L1151.1 961.0L1152.6 959.5L1154.1 954.4L1155.7 956.5L1157.2 955.0L1158.7 953.5L1160.6 946.3L1162.5 949.7L1164.4 947.8L1165.9 947.8L1167.4 947.8L1169.0 947.8L1170.5 947.8L1172.0 947.8L1173.9 940.9L1175.7 951.6L1177.6 953.5L1179.2 953.0L1180.8 952.5L1182.3 952.0L1183.9 951.6L1185.5 951.1L1187.1 950.6L1189.0 956.8L1190.9 962.9L1192.8 952.6L1194.7 952.2L1196.3 949.9L1197.8 957.0L1199.4 957.3L1201.3 959.3L1202.8 959.7L1204.3 951.9L1205.9 949.5L1207.4 939.8L1208.9 939.3L1210.8 962.9L1213.6 925.0L1215.5 923.8L1217.4 922.5L1219.3 921.3L1222.1 894.7L1225.0 875.8L1226.6 875.8L1228.1 875.8L1229.7 875.8L1232.6 860.6L1235.4 837.9L1237.3 821.8L1239.2 821.8L1241.1 821.8L1243.0 851.2L1245.8 829.4L1247.4 829.4L1249.0 829.4L1250.6 829.4L1253.4 851.2L1255.3 839.8L1257.2 828.4L1258.9 826.8L1260.6 825.3L1262.3 823.7L1264.3 823.7L1266.3 823.7L1268.6 828.4L1270.5 868.2L1272.4 880.2L1274.2 892.2L1276.1 904.2L1279.0 888.1L1280.7 888.1L1282.4 888.1L1284.7 889.0L1286.3 892.3L1288.0 895.6L1289.7 899.0L1291.3 902.3L1293.0 888.1L1295.4 888.1L1297.1 906.7L1298.6 909.7L1300.2 912.8L1301.7 915.8L1303.2 918.8L1304.7 926.7L1306.2 934.5L1307.7 942.4L1309.2 950.3L1311.1 944.2L1312.9 938.2L1314.5 932.5L1316.1 926.9L1317.7 921.2L1319.3 921.2L1321.0 921.2L1322.6 921.2L1324.1 922.4L1325.6 923.7L1327.1 924.9L1328.6 926.1L1330.2 928.5L1331.9 930.9L1333.5 933.3L1335.1 939.8L1336.7 946.2L1338.3 952.7L1340.2 957.5L1342.0 962.4L1342.7 944.2L1344.2 944.2L1345.6 960.0L1347.1 957.9L1348.7 955.8L1350.2 953.6L1351.7 951.5L1353.3 951.5L1354.9 951.5L1356.5 951.5L1358.1 950.3L1359.7 949.1L1361.3 947.9L1363.5 947.9L1365.7 947.9L1368.6 952.7L1370.4 952.7L1372.2 952.7L1374.1 952.7L1375.9 952.7L1377.7 957.5L1379.5 962.4L1381.3 954.0L1383.2 945.5L1384.8 945.5L1386.4 945.5L1388.0 945.5L1389.8 953.4L1391.7 961.2L1393.5 946.0L1395.3 930.9L1396.9 928.9L1398.6 926.8L1400.2 924.8L1402.0 924.8L1403.8 924.8L1406.2 943.0L1408.0 918.1L1409.8 893.3L1411.7 893.3L1413.5 893.3L1415.1 904.2L1416.7 915.2L1418.3 926.1L1419.9 906.7L1421.6 887.3L1423.2 867.9L1425.0 867.9L1426.8 867.9L1428.7 890.9L1430.5 913.9L1432.1 897.3L1433.7 880.8L1435.3 864.2L1436.9 864.2L1438.6 864.2L1440.2 864.2L1442.4 867.9L1444.4 911.5L1447.3 884.8L1450.2 880.0L1451.9 880.0L1453.6 880.0L1455.8 884.8L1458.0 881.2L1460.8 881.2L1463.0 892.1L1464.6 892.5L1466.3 892.9L1467.9 893.3L1470.1 884.8L1471.8 884.8L1473.5 884.8L1476.4 889.7L1478.0 891.7L1479.6 893.8L1481.2 895.8L1483.0 891.5L1484.8 887.3L1486.7 880.0L1488.5 872.7L1490.3 872.7L1492.1 872.7L1493.9 881.2L1495.8 889.7L1497.6 909.7L1499.4 929.7L1501.2 908.5L1503.0 887.3L1505.2 882.4L1508.1 882.4L1510.3 884.8L1512.1 893.3L1513.9 901.8L1515.8 917.0L1517.6 932.1L1519.1 932.1L1520.6 932.1L1522.1 932.1L1523.6 932.1L1525.8 926.1L1527.5 926.1L1529.2 926.1L1532.1 932.1L1533.7 936.6L1535.4 941.0L1537.0 945.5L1538.6 939.0L1540.2 932.6L1541.8 926.1L1544.7 901.8L1546.4 901.8L1548.1 901.8L1550.3 904.2L1552.1 920.0L1553.9 935.8L1555.7 939.4L1557.6 943.0L1559.4 946.7L1561.2 950.3L1563.0 937.0L1564.8 923.6L1567.7 922.4L1569.4 922.4L1571.1 922.4L1573.3 945.5L1574.8 936.7L1576.3 927.9L1577.9 919.1L1579.4 910.3L1581.2 910.3L1583.0 910.3L1584.6 924.0L1586.3 937.8L1587.9 951.5L1589.7 942.4L1591.5 933.3L1593.3 928.4L1595.2 923.6L1597.0 918.8L1598.8 913.9L1600.4 913.9L1602.0 913.9L1603.6 913.9L1605.4 929.7L1607.3 945.5L1609.7 900.6L1611.5 900.0L1613.3 899.4L1616.2 877.6L1617.9 877.6L1619.6 877.6L1621.8 924.8L1623.4 912.3L1625.1 899.8L1626.7 887.3L1628.5 887.3L1630.3 887.3L1632.7 897.0L1634.8 905.5L1636.9 913.9L1638.6 894.5L1640.4 894.5L1642.2 894.5L1644.1 895.8L1645.9 897.0L1647.5 905.1L1649.2 913.1L1650.8 921.2L1652.3 912.4L1653.8 903.7L1655.3 894.9L1656.8 886.1L1658.7 886.1L1660.5 886.1L1662.0 895.5L1663.5 904.9L1665.0 914.2L1666.5 923.6L1668.3 918.2L1670.2 912.7L1672.0 909.7L1673.8 906.7L1675.6 890.3L1677.4 873.9L1679.6 873.9L1681.8 873.9L1684.7 876.4L1686.5 886.7L1688.3 897.0L1690.2 918.2L1692.0 939.4L1693.8 915.8L1695.6 892.1L1697.4 878.2L1699.2 864.2L1700.8 864.2L1702.5 864.2L1704.1 864.2L1705.9 880.6L1707.7 897.0L1710.6 933.3L1712.2 917.5L1713.8 901.8L1715.4 901.8L1717.0 901.8L1718.6 901.8L1720.4 909.1L1722.3 916.4L1723.9 921.2L1725.5 926.1L1727.1 930.9L1728.7 922.0L1730.4 913.1L1732.0 904.2L1733.8 903.0L1735.6 901.8L1737.8 901.8L1740.0 901.8L1742.9 930.9L1744.7 924.8L1746.5 918.8L1749.4 917.6L1751.4 917.6L1753.3 917.6L1756.2 921.2L1757.7 924.9L1759.2 928.5L1760.8 932.1L1762.3 935.8L1763.9 922.9L1765.5 909.9L1767.1 897.0L1768.6 897.0L1770.2 897.0L1771.7 897.0L1773.2 897.0L1774.8 907.5L1776.4 918.0L1778.0 928.5L1779.5 928.5L1781.0 928.5L1782.6 928.5L1784.1 928.5L1786.5 953.9L1788.3 932.7L1790.2 911.5L1793.1 888.5L1795.3 888.5L1797.4 888.5L1799.3 889.7L1801.1 890.9L1802.9 901.2L1804.7 911.5L1807.1 945.5L1808.9 927.3L1810.8 909.1L1812.4 909.1L1814.0 909.1L1815.6 909.1L1817.4 915.2L1819.2 921.2L1820.8 911.1L1822.5 901.0L1824.1 890.9L1825.9 890.9L1827.7 890.9L1829.8 904.5L1831.8 918.2L1834.5 940.0L1837.3 910.9L1839.1 908.2L1840.9 905.5L1842.7 905.5L1844.5 905.5L1847.3 907.3L1850.0 898.2L1852.7 898.2L1854.2 900.6L1855.8 903.1L1857.3 905.5L1859.1 921.0L1860.9 936.4L1862.7 911.8L1864.5 887.3L1866.3 879.5L1868.2 871.8L1870.0 871.8L1871.8 871.8L1874.5 892.7L1876.4 923.6L1878.2 905.0L1880.0 886.4L1881.8 886.4L1883.6 886.4L1885.1 891.5L1886.7 896.7L1888.2 901.8L1890.9 943.6L1893.6 925.5L1895.4 907.3L1897.3 889.1L1899.1 885.5L1900.9 881.8L1902.7 881.8L1904.5 881.8L1906.3 889.1L1908.2 896.4L1910.9 910.9L1913.6 929.1L1915.4 943.7L1917.3 958.2L1920.0 921.8L1922.7 892.7L1925.5 868.2L1927.0 867.8L1928.5 867.3" fill="none" stroke="#008b00" stroke-width="1.5" stroke-linejoin="round"/><path d="M1051.0 962.9L1052.8 973.3L1054.5 983.8L1056.4 983.2L1058.3 982.5L1060.2 981.9L1062.1 990.9L1063.9 979.4L1065.8 978.1L1067.3 976.2L1068.8 974.3L1070.4 972.4L1071.9 970.5L1073.4 968.6L1075.3 971.1L1077.2 973.7L1079.1 976.2L1080.6 982.1L1082.1 976.2L1083.7 976.2L1085.2 976.2L1086.7 976.2L1088.6 978.7L1090.5 990.2L1092.4 983.8L1093.9 994.4L1095.4 992.3L1097.0 991.8L1098.5 986.8L1100.0 987.6L1101.5 987.6L1103.0 987.6L1104.5 987.6L1106.0 987.6L1107.5 987.6L1109.0 997.6L1110.5 989.1L1112.1 989.9L1113.6 1002.5L1115.1 991.4L1116.7 992.0L1118.3 992.7L1119.8 993.3L1121.4 993.9L1123.0 994.6L1124.6 1006.5L1126.2 1001.3L1127.7 1005.2L1129.3 1002.9L1130.9 1002.2L1132.4 993.6L1134.0 993.3L1135.6 993.6L1137.2 993.9L1138.8 994.2L1140.3 994.6L1141.9 1003.1L1143.5 995.2L1145.0 995.6L1146.5 995.9L1148.1 1001.5L1149.6 996.6L1151.1 997.0L1152.7 1007.6L1154.4 997.5L1156.0 997.8L1157.6 998.1L1159.2 998.4L1160.9 998.6L1162.5 998.9L1164.1 999.4L1165.7 1000.0L1167.3 1000.5L1169.0 1001.1L1170.6 1001.6L1172.2 1002.2L1173.8 1009.4L1175.3 1002.3L1176.8 1001.9L1178.4 1001.6L1179.9 1001.2L1181.4 1000.8L1182.9 1000.4L1184.4 1005.3L1186.0 999.7L1187.5 999.3L1189.0 998.9L1190.6 998.9L1192.2 998.9L1193.8 998.9L1195.3 998.9L1196.9 998.9L1198.5 998.9L1200.4 1003.6L1202.3 1008.4L1204.2 1005.2L1206.1 1002.1L1208.0 998.9L1209.8 1005.5L1211.7 1012.2L1213.6 1013.5L1215.5 1014.7L1217.4 1016.0L1219.3 1018.5L1221.2 1021.1L1223.1 1023.6L1225.0 1023.6L1226.9 1023.6L1228.8 1019.2L1230.7 1014.7L1232.6 1010.3L1234.5 1020.2L1236.4 1030.2L1238.1 1030.4L1239.8 1030.7L1241.6 1030.9L1243.3 1031.1L1245.0 1031.1L1246.6 1031.1L1248.3 1031.1L1250.0 1029.2L1251.7 1027.4L1253.4 1025.5L1255.2 1028.3L1256.9 1031.2L1258.7 1034.0L1260.4 1036.8L1262.1 1036.8L1263.7 1036.8L1265.4 1036.8L1267.5 1031.2L1269.5 1025.5L1271.4 1018.5L1273.3 1011.6L1275.2 1004.6L1276.8 1006.0L1278.5 1007.5L1280.2 1008.9L1281.8 1010.3L1283.9 1015.0L1286.0 1019.8L1287.7 1019.8L1289.3 1019.8L1291.0 1019.8L1293.0 1016.0L1295.1 1012.2L1296.7 1009.5L1298.3 1006.8L1300.0 1004.2L1301.6 1001.5L1303.2 998.8L1304.7 993.3L1306.2 987.9L1307.7 982.5L1309.2 977.0L1310.7 980.6L1312.2 984.2L1313.8 987.9L1315.3 991.5L1317.5 1002.4L1319.4 1002.4L1321.3 1002.4L1323.2 999.4L1325.0 996.4L1326.8 994.6L1328.7 992.8L1330.5 990.9L1332.3 989.1L1333.9 987.9L1335.5 986.7L1337.2 985.5L1338.8 984.2L1340.4 983.0L1342.0 981.8L1344.2 1001.2L1346.1 1001.2L1348.0 1001.2L1349.9 998.8L1351.7 996.4L1353.3 997.4L1354.9 998.4L1356.5 999.4L1358.1 1000.4L1359.7 1001.4L1361.3 1002.4L1363.0 1002.4L1364.6 1002.4L1366.3 1002.4L1368.1 1002.1L1369.9 1001.8L1371.7 1001.5L1373.5 1001.2L1375.3 998.2L1377.2 995.2L1379.0 992.1L1380.8 989.1L1383.0 1008.5L1384.9 1008.5L1386.9 1008.5L1388.4 1004.2L1389.9 1000.0L1391.4 995.8L1392.9 991.5L1395.8 1018.2L1398.0 1018.2L1400.2 1018.2L1401.8 1009.3L1403.4 1000.4L1405.0 991.5L1406.8 1006.6L1408.7 1021.8L1410.3 1021.8L1412.0 1021.8L1413.6 1021.8L1415.2 1012.5L1416.7 1003.2L1418.3 993.9L1420.1 1011.5L1422.0 1029.1L1423.6 1029.1L1425.2 1029.1L1426.8 1029.1L1428.7 1017.6L1430.5 1006.1L1432.3 1018.2L1434.1 1030.3L1436.0 1030.3L1437.9 1030.3L1440.0 1026.7L1441.8 1025.2L1443.7 1023.7L1445.5 1022.1L1447.3 1020.6L1448.9 1022.4L1450.5 1024.2L1452.1 1026.0L1453.7 1027.9L1455.3 1029.7L1456.9 1031.5L1458.6 1031.5L1460.2 1031.5L1461.9 1031.5L1463.5 1028.7L1465.1 1025.8L1466.7 1023.0L1468.3 1025.8L1469.8 1028.7L1471.4 1031.5L1473.1 1031.5L1474.7 1031.5L1476.4 1031.5L1477.9 1027.0L1479.4 1022.4L1480.9 1017.8L1482.4 1013.3L1485.3 1029.1L1487.6 1029.1L1489.8 1029.1L1491.4 1028.3L1492.9 1027.5L1494.5 1026.7L1496.1 1015.8L1497.8 1004.8L1499.4 993.9L1500.9 1000.3L1502.5 1006.6L1504.0 1013.0L1505.5 1019.4L1507.5 1020.2L1509.4 1021.0L1511.4 1021.8L1513.0 1021.8L1514.7 1021.8L1516.3 1021.8L1518.2 1014.0L1520.0 1006.1L1522.9 1023.0L1525.1 1023.0L1527.3 1023.0L1528.9 1015.7L1530.5 1008.5L1532.1 1001.2L1533.7 1000.4L1535.4 999.6L1537.0 998.8L1538.8 1003.9L1540.6 1009.1L1542.4 1014.2L1544.2 1019.4L1545.9 1019.4L1547.5 1019.4L1549.2 1019.4L1550.8 1010.9L1552.3 1002.4L1553.9 993.9L1555.7 993.3L1557.6 992.7L1559.4 992.1L1561.2 991.5L1562.7 997.2L1564.2 1003.0L1565.7 1008.8L1567.2 1014.5L1568.9 1014.5L1570.7 1014.5L1572.1 979.4L1573.9 1000.0L1575.8 1020.6L1577.4 1020.6L1579.1 1020.6L1580.7 1020.6L1582.2 1013.3L1583.7 1006.0L1585.2 998.8L1586.7 991.5L1588.4 996.6L1590.1 1001.7L1591.7 1006.8L1593.4 1011.9L1595.1 1017.0L1596.8 1017.0L1598.4 1017.0L1600.1 1017.0L1601.6 1009.4L1603.1 1001.9L1604.6 994.3L1606.1 986.7L1608.1 1003.3L1610.0 1019.8L1612.0 1036.4L1613.7 1036.4L1615.3 1036.4L1617.0 1036.4L1618.6 1020.6L1620.2 1004.9L1621.8 989.1L1623.6 998.8L1625.4 1008.5L1627.2 1018.2L1629.0 1027.9L1630.7 1027.9L1632.3 1027.9L1634.0 1027.9L1635.5 1018.2L1637.1 1008.5L1638.6 998.8L1641.5 1026.7L1643.8 1026.7L1646.0 1026.7L1647.5 1024.0L1649.0 1021.2L1650.5 1018.5L1652.0 1015.8L1653.6 1019.4L1655.1 1023.1L1656.7 1026.7L1658.4 1026.7L1660.0 1026.7L1661.7 1026.7L1663.3 1023.9L1664.9 1021.0L1666.5 1018.2L1669.4 1025.5L1671.6 1025.5L1673.8 1025.5L1675.6 1018.8L1677.4 1012.1L1678.9 1016.4L1680.4 1020.6L1681.9 1024.8L1683.4 1029.1L1685.0 1029.1L1686.7 1029.1L1688.3 1029.1L1690.2 1013.3L1692.0 997.6L1693.5 1002.8L1695.0 1007.9L1696.5 1013.1L1698.0 1018.2L1699.8 1020.6L1701.7 1023.0L1703.8 1023.0L1706.0 1023.0L1708.9 1009.7L1710.5 1015.0L1712.1 1020.2L1713.7 1025.5L1715.4 1025.5L1717.0 1025.5L1718.7 1025.5L1720.5 1019.7L1722.3 1014.0L1724.1 1008.2L1725.9 1002.4L1727.7 1012.7L1729.6 1023.0L1731.2 1023.0L1732.9 1023.0L1734.5 1023.0L1736.3 1017.2L1738.1 1011.5L1739.9 1005.8L1741.7 1000.0L1743.5 1003.3L1745.3 1006.6L1747.1 1010.0L1748.9 1013.3L1750.6 1013.3L1752.2 1013.3L1753.9 1013.3L1755.7 1008.4L1757.5 1003.6L1759.3 998.8L1761.1 993.9L1762.7 1004.8L1764.2 1015.8L1765.8 1026.7L1767.5 1026.7L1769.1 1026.7L1770.8 1026.7L1772.4 1025.5L1774.0 1024.2L1775.6 1023.0L1777.2 1016.8L1778.7 1010.5L1780.3 1004.3L1781.8 998.1L1783.4 991.9L1784.9 985.6L1786.5 979.4L1788.3 992.4L1790.1 1005.5L1791.9 1018.5L1793.7 1031.5L1795.4 1031.5L1797.0 1031.5L1798.7 1031.5L1800.5 1018.5L1802.3 1005.5L1804.1 992.4L1805.9 979.4L1807.7 989.1L1809.5 998.8L1811.3 1008.5L1813.1 1018.2L1814.8 1018.2L1816.4 1018.2L1818.1 1018.2L1819.6 1017.9L1821.1 1017.6L1822.6 1017.3L1824.1 1017.0L1825.8 1011.4L1827.5 1005.8L1829.3 1000.3L1831.0 994.7L1832.7 989.1L1834.5 1001.5L1836.4 1014.0L1838.2 1026.4L1839.8 1026.8L1841.4 1027.3L1843.4 1027.3L1845.4 1027.3L1848.2 1014.5L1850.9 1021.8L1853.1 1021.8L1855.2 1021.8L1856.8 1010.9L1858.4 1000.0L1860.0 989.1L1862.0 1010.5L1863.9 1031.8L1865.6 1031.8L1867.2 1031.8L1868.9 1031.8L1870.5 1030.3L1872.0 1028.8L1873.6 1027.3L1875.6 1008.2L1877.6 989.1L1879.2 1002.3L1880.9 1015.5L1882.6 1016.0L1884.2 1016.4L1886.4 1016.4L1888.6 1016.4L1890.2 1006.4L1891.8 996.4L1893.4 1011.0L1895.1 1025.5L1896.7 1025.5L1898.2 1025.5L1899.8 1025.5L1901.4 1024.3L1902.9 1023.0L1904.5 1021.8L1906.3 1018.2L1908.2 1014.5L1910.0 1010.9L1911.8 1005.7L1913.7 1000.5L1915.5 995.2L1917.3 990.0L1919.1 1002.4L1920.9 1014.9L1922.7 1027.3L1924.9 1028.2L1927.2 1028.2L1928.5 1028.0" fill="none" stroke="#008b00" stroke-width="1.5" stroke-linejoin="round"/><path d="M1052.0 1144.6L1928.5 1144.6" fill="none" stroke="#670748" stroke-width="2.6" stroke-linejoin="round"/></g>
<path d="M211.33 613.20L211.33 596.20M211.33 57.50L211.33 74.50M274.74 613.20L274.74 580.20M274.74 57.50L274.74 90.50M338.16 613.20L338.16 596.20M338.16 57.50L338.16 74.50M401.57 613.20L401.57 580.20M401.57 57.50L401.57 90.50M464.98 613.20L464.98 596.20M464.98 57.50L464.98 74.50M528.40 613.20L528.40 580.20M528.40 57.50L528.40 90.50M591.81 613.20L591.81 596.20M591.81 57.50L591.81 74.50M655.22 613.20L655.22 580.20M655.22 57.50L655.22 90.50M718.63 613.20L718.63 596.20M718.63 57.50L718.63 74.50M782.05 613.20L782.05 580.20M782.05 57.50L782.05 90.50M845.46 613.20L845.46 596.20M845.46 57.50L845.46 74.50M908.87 613.20L908.87 580.20M908.87 57.50L908.87 90.50M972.29 613.20L972.29 596.20M972.29 57.50L972.29 74.50M160.60 587.60L193.60 587.60M1035.70 587.60L1002.70 587.60M160.60 486.66L193.60 486.66M1035.70 486.66L1002.70 486.66M160.60 385.72L193.60 385.72M1035.70 385.72L1002.70 385.72M160.60 284.78L193.60 284.78M1035.70 284.78L1002.70 284.78M160.60 183.84L193.60 183.84M1035.70 183.84L1002.70 183.84M160.60 82.90L193.60 82.90M1035.70 82.90L1002.70 82.90M160.60 537.13L177.60 537.13M1035.70 537.13L1018.70 537.13M160.60 436.19L177.60 436.19M1035.70 436.19L1018.70 436.19M160.60 335.25L177.60 335.25M1035.70 335.25L1018.70 335.25M160.60 234.31L177.60 234.31M1035.70 234.31L1018.70 234.31M160.60 133.37L177.60 133.37M1035.70 133.37L1018.70 133.37" stroke="#000" stroke-width="2.6" fill="none"/><rect x="160.6" y="57.5" width="875.1" height="555.7" stroke="#000" stroke-width="2.7" fill="none"/><path d="M211.33 1184.50L211.33 1167.50M211.33 630.00L211.33 647.00M274.74 1184.50L274.74 1151.50M274.74 630.00L274.74 663.00M338.16 1184.50L338.16 1167.50M338.16 630.00L338.16 647.00M401.57 1184.50L401.57 1151.50M401.57 630.00L401.57 663.00M464.98 1184.50L464.98 1167.50M464.98 630.00L464.98 647.00M528.40 1184.50L528.40 1151.50M528.40 630.00L528.40 663.00M591.81 1184.50L591.81 1167.50M591.81 630.00L591.81 647.00M655.22 1184.50L655.22 1151.50M655.22 630.00L655.22 663.00M718.63 1184.50L718.63 1167.50M718.63 630.00L718.63 647.00M782.05 1184.50L782.05 1151.50M782.05 630.00L782.05 663.00M845.46 1184.50L845.46 1167.50M845.46 630.00L845.46 647.00M908.87 1184.50L908.87 1151.50M908.87 630.00L908.87 663.00M972.29 1184.50L972.29 1167.50M972.29 630.00L972.29 647.00M160.60 1145.20L193.60 1145.20M1035.70 1145.20L1002.70 1145.20M160.60 988.94L193.60 988.94M1035.70 988.94L1002.70 988.94M160.60 832.68L193.60 832.68M1035.70 832.68L1002.70 832.68M160.60 676.42L193.60 676.42M1035.70 676.42L1002.70 676.42M160.60 1067.07L177.60 1067.07M1035.70 1067.07L1018.70 1067.07M160.60 910.81L177.60 910.81M1035.70 910.81L1018.70 910.81M160.60 754.55L177.60 754.55M1035.70 754.55L1018.70 754.55" stroke="#000" stroke-width="2.6" fill="none"/><rect x="160.6" y="630.0" width="875.1" height="554.5" stroke="#000" stroke-width="2.7" fill="none"/><path d="M1103.49 613.20L1103.49 596.20M1103.49 57.30L1103.49 74.30M1166.85 613.20L1166.85 580.20M1166.85 57.30L1166.85 90.30M1230.21 613.20L1230.21 596.20M1230.21 57.30L1230.21 74.30M1293.58 613.20L1293.58 580.20M1293.58 57.30L1293.58 90.30M1356.94 613.20L1356.94 596.20M1356.94 57.30L1356.94 74.30M1420.30 613.20L1420.30 580.20M1420.30 57.30L1420.30 90.30M1483.66 613.20L1483.66 596.20M1483.66 57.30L1483.66 74.30M1547.03 613.20L1547.03 580.20M1547.03 57.30L1547.03 90.30M1610.39 613.20L1610.39 596.20M1610.39 57.30L1610.39 74.30M1673.75 613.20L1673.75 580.20M1673.75 57.30L1673.75 90.30M1737.11 613.20L1737.11 596.20M1737.11 57.30L1737.11 74.30M1800.48 613.20L1800.48 580.20M1800.48 57.30L1800.48 90.30M1863.84 613.20L1863.84 596.20M1863.84 57.30L1863.84 74.30M1052.80 587.60L1085.80 587.60M1927.20 587.60L1894.20 587.60M1052.80 486.66L1085.80 486.66M1927.20 486.66L1894.20 486.66M1052.80 385.72L1085.80 385.72M1927.20 385.72L1894.20 385.72M1052.80 284.78L1085.80 284.78M1927.20 284.78L1894.20 284.78M1052.80 183.84L1085.80 183.84M1927.20 183.84L1894.20 183.84M1052.80 82.90L1085.80 82.90M1927.20 82.90L1894.20 82.90M1052.80 537.13L1069.80 537.13M1927.20 537.13L1910.20 537.13M1052.80 436.19L1069.80 436.19M1927.20 436.19L1910.20 436.19M1052.80 335.25L1069.80 335.25M1927.20 335.25L1910.20 335.25M1052.80 234.31L1069.80 234.31M1927.20 234.31L1910.20 234.31M1052.80 133.37L1069.80 133.37M1927.20 133.37L1910.20 133.37" stroke="#000" stroke-width="2.6" fill="none"/><rect x="1052.8" y="57.3" width="874.4" height="555.9" stroke="#000" stroke-width="2.7" fill="none"/><path d="M1103.49 1184.50L1103.49 1167.50M1103.49 629.50L1103.49 646.50M1166.85 1184.50L1166.85 1151.50M1166.85 629.50L1166.85 662.50M1230.21 1184.50L1230.21 1167.50M1230.21 629.50L1230.21 646.50M1293.58 1184.50L1293.58 1151.50M1293.58 629.50L1293.58 662.50M1356.94 1184.50L1356.94 1167.50M1356.94 629.50L1356.94 646.50M1420.30 1184.50L1420.30 1151.50M1420.30 629.50L1420.30 662.50M1483.66 1184.50L1483.66 1167.50M1483.66 629.50L1483.66 646.50M1547.03 1184.50L1547.03 1151.50M1547.03 629.50L1547.03 662.50M1610.39 1184.50L1610.39 1167.50M1610.39 629.50L1610.39 646.50M1673.75 1184.50L1673.75 1151.50M1673.75 629.50L1673.75 662.50M1737.11 1184.50L1737.11 1167.50M1737.11 629.50L1737.11 646.50M1800.48 1184.50L1800.48 1151.50M1800.48 629.50L1800.48 662.50M1863.84 1184.50L1863.84 1167.50M1863.84 629.50L1863.84 646.50M1052.80 1144.80L1085.80 1144.80M1927.20 1144.80L1894.20 1144.80M1052.80 986.40L1085.80 986.40M1927.20 986.40L1894.20 986.40M1052.80 828.00L1085.80 828.00M1927.20 828.00L1894.20 828.00M1052.80 669.60L1085.80 669.60M1927.20 669.60L1894.20 669.60M1052.80 1065.60L1069.80 1065.60M1927.20 1065.60L1910.20 1065.60M1052.80 907.20L1069.80 907.20M1927.20 907.20L1910.20 907.20M1052.80 748.80L1069.80 748.80M1927.20 748.80L1910.20 748.80" stroke="#000" stroke-width="2.6" fill="none"/><rect x="1052.8" y="629.5" width="874.4" height="555.0" stroke="#000" stroke-width="2.7" fill="none"/>
<text transform="translate(461.70,49.03) scale(0.6832,0.7073)" font-family='"Liberation Serif", "Times New Roman", Times, serif' font-size="100.0" fill="#0000ff">12.25 eV</text><text transform="translate(1369.13,46.93) scale(0.6794,0.7064)" font-family='"Liberation Serif", "Times New Roman", Times, serif' font-size="100.0" fill="#008b00">14 eV</text><text x="146.00" y="604.20" font-family='"Liberation Sans", Arial, Helvetica, sans-serif' font-size="47.5" fill="#000" text-anchor="end" >0</text><text x="146.00" y="503.26" font-family='"Liberation Sans", Arial, Helvetica, sans-serif' font-size="47.5" fill="#000" text-anchor="end" >0.2</text><text x="146.00" y="402.32" font-family='"Liberation Sans", Arial, Helvetica, sans-serif' font-size="47.5" fill="#000" text-anchor="end" >0.4</text><text x="146.00" y="301.38" font-family='"Liberation Sans", Arial, Helvetica, sans-serif' font-size="47.5" fill="#000" text-anchor="end" >0.6</text><text x="146.00" y="200.44" font-family='"Liberation Sans", Arial, Helvetica, sans-serif' font-size="47.5" fill="#000" text-anchor="end" >0.8</text><text x="146.00" y="99.50" font-family='"Liberation Sans", Arial, Helvetica, sans-serif' font-size="47.5" fill="#000" text-anchor="end" >1</text><text x="146.00" y="1161.80" font-family='"Liberation Sans", Arial, Helvetica, sans-serif' font-size="47.5" fill="#000" text-anchor="end" >0</text><text x="146.00" y="1005.54" font-family='"Liberation Sans", Arial, Helvetica, sans-serif' font-size="47.5" fill="#000" text-anchor="end" >0.2</text><text x="146.00" y="849.28" font-family='"Liberation Sans", Arial, Helvetica, sans-serif' font-size="47.5" fill="#000" text-anchor="end" >0.4</text><text x="146.00" y="693.02" font-family='"Liberation Sans", Arial, Helvetica, sans-serif' font-size="47.5" fill="#000" text-anchor="end" >0.6</text><text x="1944.00" y="604.20" font-family='"Liberation Sans", Arial, Helvetica, sans-serif' font-size="47.5" fill="#000" text-anchor="start" >0</text><text x="1944.00" y="503.26" font-family='"Liberation Sans", Arial, Helvetica, sans-serif' font-size="47.5" fill="#000" text-anchor="start" >0.2</text><text x="1944.00" y="402.32" font-family='"Liberation Sans", Arial, Helvetica, sans-serif' font-size="47.5" fill="#000" text-anchor="start" >0.4</text><text x="1944.00" y="301.38" font-family='"Liberation Sans", Arial, Helvetica, sans-serif' font-size="47.5" fill="#000" text-anchor="start" >0.6</text><text x="1944.00" y="200.44" font-family='"Liberation Sans", Arial, Helvetica, sans-serif' font-size="47.5" fill="#000" text-anchor="start" >0.8</text><text x="1944.00" y="99.50" font-family='"Liberation Sans", Arial, Helvetica, sans-serif' font-size="47.5" fill="#000" text-anchor="start" >1</text><text x="1944.00" y="1161.40" font-family='"Liberation Sans", Arial, Helvetica, sans-serif' font-size="47.5" fill="#000" text-anchor="start" >0</text><text x="1944.00" y="1003.00" font-family='"Liberation Sans", Arial, Helvetica, sans-serif' font-size="47.5" fill="#000" text-anchor="start" >0.2</text><text x="1944.00" y="844.60" font-family='"Liberation Sans", Arial, Helvetica, sans-serif' font-size="47.5" fill="#000" text-anchor="start" >0.4</text><text x="1944.00" y="686.20" font-family='"Liberation Sans", Arial, Helvetica, sans-serif' font-size="47.5" fill="#000" text-anchor="start" >0.6</text><text x="274.74" y="1235.50" font-family='"Liberation Sans", Arial, Helvetica, sans-serif' font-size="47.5" fill="#000" text-anchor="middle" >20</text><text x="401.57" y="1235.50" font-family='"Liberation Sans", Arial, Helvetica, sans-serif' font-size="47.5" fill="#000" text-anchor="middle" >40</text><text x="528.40" y="1235.50" font-family='"Liberation Sans", Arial, Helvetica, sans-serif' font-size="47.5" fill="#000" text-anchor="middle" >60</text><text x="655.22" y="1235.50" font-family='"Liberation Sans", Arial, Helvetica, sans-serif' font-size="47.5" fill="#000" text-anchor="middle" >80</text><text x="782.05" y="1235.50" font-family='"Liberation Sans", Arial, Helvetica, sans-serif' font-size="47.5" fill="#000" text-anchor="middle" >100</text><text x="908.87" y="1235.50" font-family='"Liberation Sans", Arial, Helvetica, sans-serif' font-size="47.5" fill="#000" text-anchor="middle" >120</text><text x="1166.85" y="1235.50" font-family='"Liberation Sans", Arial, Helvetica, sans-serif' font-size="47.5" fill="#000" text-anchor="middle" >20</text><text x="1293.58" y="1235.50" font-family='"Liberation Sans", Arial, Helvetica, sans-serif' font-size="47.5" fill="#000" text-anchor="middle" >40</text><text x="1420.30" y="1235.50" font-family='"Liberation Sans", Arial, Helvetica, sans-serif' font-size="47.5" fill="#000" text-anchor="middle" >60</text><text x="1547.03" y="1235.50" font-family='"Liberation Sans", Arial, Helvetica, sans-serif' font-size="47.5" fill="#000" text-anchor="middle" >80</text><text x="1673.75" y="1235.50" font-family='"Liberation Sans", Arial, Helvetica, sans-serif' font-size="47.5" fill="#000" text-anchor="middle" >100</text><text x="1800.48" y="1235.50" font-family='"Liberation Sans", Arial, Helvetica, sans-serif' font-size="47.5" fill="#000" text-anchor="middle" >120</text><text x="1927.20" y="1235.50" font-family='"Liberation Sans", Arial, Helvetica, sans-serif' font-size="47.5" fill="#000" text-anchor="middle" >140</text><text transform="translate(178.95,147.89) scale(0.8797,0.8651)" font-family='"Liberation Sans", Arial, Helvetica, sans-serif' font-size="100.0" fill="#000">(a)</text><text transform="translate(187.01,714.72) scale(0.8851,0.8587)" font-family='"Liberation Sans", Arial, Helvetica, sans-serif' font-size="100.0" fill="#000">(b)</text><text transform="translate(1073.92,139.79) scale(0.8839,0.8651)" font-family='"Liberation Sans", Arial, Helvetica, sans-serif' font-size="100.0" fill="#000">(c)</text><text transform="translate(1079.67,729.44) scale(0.8924,0.8673)" font-family='"Liberation Sans", Arial, Helvetica, sans-serif' font-size="100.0" fill="#000">(d)</text><text transform="translate(772.34,153.80) scale(0.7153,0.6934)" font-family='"Liberation Serif", "Times New Roman", Times, serif' font-size="100.0" fill="#000">H</text><text transform="translate(821.70,181.70) scale(0.5238,0.5029)" font-family='"Liberation Serif", "Times New Roman", Times, serif' font-size="100.0" fill="#000">2</text><text transform="translate(823.05,112.37) scale(0.5523,0.5517)" font-family='"Liberation Serif", "Times New Roman", Times, serif' font-size="100.0" fill="#000">+</text><text transform="translate(861.39,157.17) scale(0.7844,0.7836)" font-family='"Liberation Serif", "Times New Roman", Times, serif' font-size="100.0" fill="#000">+</text><text transform="translate(919.86,154.13) scale(0.7268,0.6841)" font-family='"Liberation Serif", "Times New Roman", Times, serif' font-size="100.0" fill="#000">e</text><text transform="translate(950.80,116.64) scale(0.4851,0.6425)" font-family='"Liberation Serif", "Times New Roman", Times, serif' font-size="100.0" fill="#000">-</text><text transform="translate(1629.14,413.80) scale(0.7153,0.6934)" font-family='"Liberation Serif", "Times New Roman", Times, serif' font-size="100.0" fill="#000">H</text><text transform="translate(1678.50,441.70) scale(0.5238,0.5029)" font-family='"Liberation Serif", "Times New Roman", Times, serif' font-size="100.0" fill="#000">2</text><text transform="translate(1679.85,372.37) scale(0.5523,0.5517)" font-family='"Liberation Serif", "Times New Roman", Times, serif' font-size="100.0" fill="#000">+</text><text transform="translate(1718.19,417.17) scale(0.7844,0.7836)" font-family='"Liberation Serif", "Times New Roman", Times, serif' font-size="100.0" fill="#000">+</text><text transform="translate(1776.66,414.13) scale(0.7268,0.6841)" font-family='"Liberation Serif", "Times New Roman", Times, serif' font-size="100.0" fill="#000">e</text><text transform="translate(1807.60,376.64) scale(0.4851,0.6425)" font-family='"Liberation Serif", "Times New Roman", Times, serif' font-size="100.0" fill="#000">-</text><text transform="translate(681.54,741.90) scale(0.7138,0.6995)" font-family='"Liberation Serif", "Times New Roman", Times, serif' font-size="100.0" fill="#000">H</text><text transform="translate(746.60,744.93) scale(0.7822,0.7900)" font-family='"Liberation Serif", "Times New Roman", Times, serif' font-size="100.0" fill="#000">+</text><text transform="translate(804.34,741.90) scale(0.7153,0.6995)" font-family='"Liberation Serif", "Times New Roman", Times, serif' font-size="100.0" fill="#000">H</text><text transform="translate(852.83,702.30) scale(0.5566,0.5453)" font-family='"Liberation Serif", "Times New Roman", Times, serif' font-size="100.0" fill="#000">+</text><text transform="translate(897.54,744.93) scale(0.7758,0.7900)" font-family='"Liberation Serif", "Times New Roman", Times, serif' font-size="100.0" fill="#000">+</text><text transform="translate(955.27,742.02) scale(0.7241,0.6965)" font-family='"Liberation Serif", "Times New Roman", Times, serif' font-size="100.0" fill="#000">e</text><text transform="translate(985.99,708.09) scale(0.4889,0.8165)" font-family='"Liberation Serif", "Times New Roman", Times, serif' font-size="100.0" fill="#000">-</text><text transform="translate(1552.04,756.30) scale(0.7138,0.6995)" font-family='"Liberation Serif", "Times New Roman", Times, serif' font-size="100.0" fill="#000">H</text><text transform="translate(1617.10,759.33) scale(0.7822,0.7900)" font-family='"Liberation Serif", "Times New Roman", Times, serif' font-size="100.0" fill="#000">+</text><text transform="translate(1674.84,756.30) scale(0.7153,0.6995)" font-family='"Liberation Serif", "Times New Roman", Times, serif' font-size="100.0" fill="#000">H</text><text transform="translate(1723.33,716.70) scale(0.5566,0.5453)" font-family='"Liberation Serif", "Times New Roman", Times, serif' font-size="100.0" fill="#000">+</text><text transform="translate(1768.04,759.33) scale(0.7758,0.7900)" font-family='"Liberation Serif", "Times New Roman", Times, serif' font-size="100.0" fill="#000">+</text><text transform="translate(1825.77,756.42) scale(0.7241,0.6965)" font-family='"Liberation Serif", "Times New Roman", Times, serif' font-size="100.0" fill="#000">e</text><text transform="translate(1856.49,722.49) scale(0.4889,0.8165)" font-family='"Liberation Serif", "Times New Roman", Times, serif' font-size="100.0" fill="#000">-</text><text transform="translate(206.63,245.00) scale(0.3721,0.5029)" font-family='"Liberation Serif", "Times New Roman", Times, serif' font-size="100.0" fill="#bc8f8f">1</text><text transform="translate(226.00,285.70) scale(0.8180,0.7117)" font-family='"Liberation Serif", "Times New Roman", Times, serif' font-size="100.0" fill="#bc8f8f">Σ</text><text transform="translate(269.13,314.21) scale(0.5046,0.4444)" font-family='"Liberation Serif", "Times New Roman", Times, serif' font-size="100.0" fill="#bc8f8f">g</text><text transform="translate(303.48,496.50) scale(0.3664,0.5044)" font-family='"Liberation Serif", "Times New Roman", Times, serif' font-size="100.0" fill="#670748">1</text><text transform="translate(323.03,537.50) scale(0.8119,0.7132)" font-family='"Liberation Serif", "Times New Roman", Times, serif' font-size="100.0" fill="#670748">Σ</text><text transform="translate(366.53,566.21) scale(0.4343,0.4992)" font-family='"Liberation Serif", "Times New Roman", Times, serif' font-size="100.0" fill="#670748">u</text><text transform="translate(221.08,772.50) scale(0.3551,0.4969)" font-family='"Liberation Serif", "Times New Roman", Times, serif' font-size="100.0" fill="#bc8f8f">1</text><text transform="translate(240.06,813.30) scale(0.8302,0.6995)" font-family='"Liberation Serif", "Times New Roman", Times, serif' font-size="100.0" fill="#bc8f8f">Σ</text><text transform="translate(282.71,842.11) scale(0.5320,0.4444)" font-family='"Liberation Serif", "Times New Roman", Times, serif' font-size="100.0" fill="#bc8f8f">g</text><text transform="translate(363.25,1073.60) scale(0.3693,0.5014)" font-family='"Liberation Serif", "Times New Roman", Times, serif' font-size="100.0" fill="#670748">1</text><text transform="translate(382.73,1114.50) scale(0.8119,0.7071)" font-family='"Liberation Serif", "Times New Roman", Times, serif' font-size="100.0" fill="#670748">Σ</text><text transform="translate(425.72,1142.24) scale(0.5131,0.4736)" font-family='"Liberation Serif", "Times New Roman", Times, serif' font-size="100.0" fill="#670748">u</text><text transform="translate(1165.68,283.80) scale(0.3664,0.4984)" font-family='"Liberation Serif", "Times New Roman", Times, serif' font-size="100.0" fill="#670748">1</text><text transform="translate(1185.03,325.00) scale(0.8119,0.7147)" font-family='"Liberation Serif", "Times New Roman", Times, serif' font-size="100.0" fill="#670748">Σ</text><text transform="translate(1227.92,352.73) scale(0.5131,0.4843)" font-family='"Liberation Serif", "Times New Roman", Times, serif' font-size="100.0" fill="#670748">u</text><text transform="translate(1115.78,422.00) scale(0.3778,0.4984)" font-family='"Liberation Serif", "Times New Roman", Times, serif' font-size="100.0" fill="#bc8f8f">1</text><text transform="translate(1134.97,463.40) scale(0.8281,0.7178)" font-family='"Liberation Serif", "Times New Roman", Times, serif' font-size="100.0" fill="#bc8f8f">Σ</text><text transform="translate(1177.91,491.09) scale(0.5091,0.4362)" font-family='"Liberation Serif", "Times New Roman", Times, serif' font-size="100.0" fill="#bc8f8f">g</text><text transform="translate(1132.20,809.00) scale(0.3749,0.4847)" font-family='"Liberation Serif", "Times New Roman", Times, serif' font-size="100.0" fill="#bc8f8f">1</text><text transform="translate(1151.97,850.80) scale(0.8281,0.7071)" font-family='"Liberation Serif", "Times New Roman", Times, serif' font-size="100.0" fill="#bc8f8f">Σ</text><text transform="translate(1194.16,878.94) scale(0.5206,0.4335)" font-family='"Liberation Serif", "Times New Roman", Times, serif' font-size="100.0" fill="#bc8f8f">g</text><text transform="translate(1309.95,1077.70) scale(0.3693,0.5029)" font-family='"Liberation Serif", "Times New Roman", Times, serif' font-size="100.0" fill="#670748">1</text><text transform="translate(1329.10,1118.60) scale(0.8200,0.7071)" font-family='"Liberation Serif", "Times New Roman", Times, serif' font-size="100.0" fill="#670748">Σ</text><text transform="translate(1372.61,1146.84) scale(0.4449,0.4757)" font-family='"Liberation Serif", "Times New Roman", Times, serif' font-size="100.0" fill="#670748">u</text><text x="1496.62" y="116.90" font-family='"Liberation Sans", Arial, Helvetica, sans-serif' font-size="48.5" fill="#008b00" text-anchor="start" >P(</text><text transform="translate(1542.98,117.29) scale(0.5560,0.5269)" font-family='"Liberation Serif", "Times New Roman", Times, serif' font-size="100.0" fill="#008b00">τ</text><text x="1562.75" y="116.90" font-family='"Liberation Sans", Arial, Helvetica, sans-serif' font-size="48.5" fill="#008b00" text-anchor="start" >)/4</text><text x="1445.12" y="353.80" font-family='"Liberation Sans", Arial, Helvetica, sans-serif' font-size="48.5" fill="#670748" text-anchor="start" >P(</text><text transform="translate(1491.48,354.19) scale(0.5560,0.5269)" font-family='"Liberation Serif", "Times New Roman", Times, serif' font-size="100.0" fill="#670748">τ</text><text x="1511.25" y="353.80" font-family='"Liberation Sans", Arial, Helvetica, sans-serif' font-size="48.5" fill="#670748" text-anchor="start" >)/4</text><text transform="translate(524.31,1305.83) scale(0.8158,0.7851)" font-family='"Liberation Serif", "Times New Roman", Times, serif' font-size="100.0" fill="#000">τ</text><text x="574.94" y="1305.60" font-family='"Liberation Sans", Arial, Helvetica, sans-serif' font-size="70.4" fill="#000" text-anchor="start" >(fs)</text><text transform="translate(1415.81,1305.83) scale(0.8158,0.7851)" font-family='"Liberation Serif", "Times New Roman", Times, serif' font-size="100.0" fill="#000">τ</text><text x="1466.44" y="1305.60" font-family='"Liberation Sans", Arial, Helvetica, sans-serif' font-size="70.4" fill="#000" text-anchor="start" >(fs)</text><g transform="translate(52.7,866.14) rotate(-90) scale(1,1.035)"><text x="0" y="0" font-family='"Liberation Sans", Arial, Helvetica, sans-serif' font-size="47.0">Ionization probability (x10</text><text x="533.97" y="-27.2" font-family='"Liberation Sans", Arial, Helvetica, sans-serif' font-size="33.0">-4)</text></g>
</svg></body></html>
